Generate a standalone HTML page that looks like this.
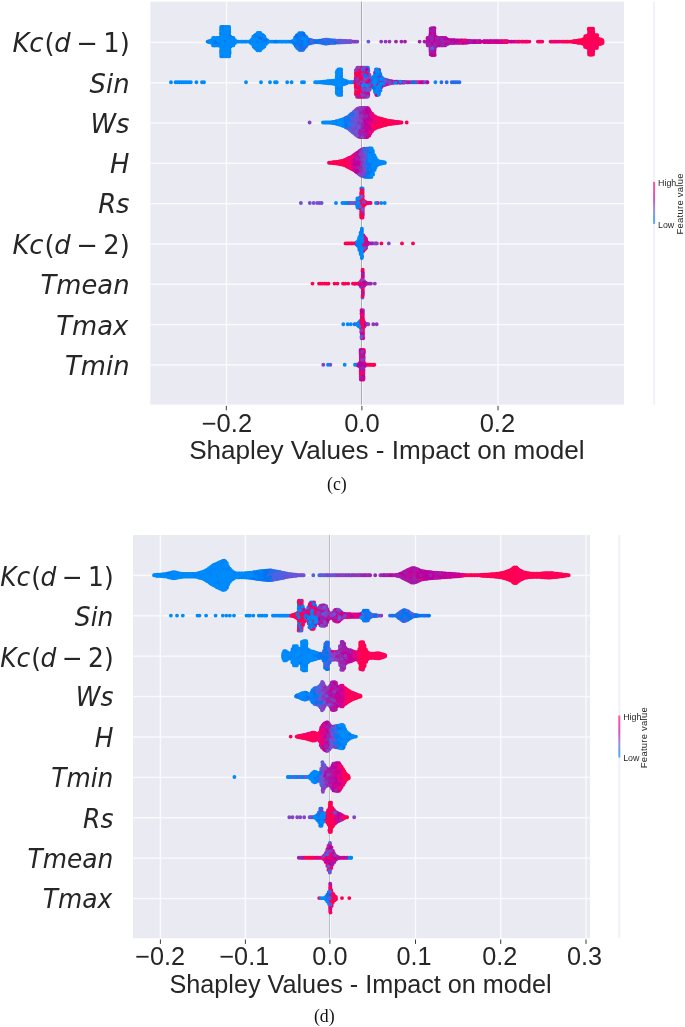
<!DOCTYPE html>
<html lang="en"><head><meta charset="utf-8"><title>Shapley Values - Impact on model</title>
<style>
html,body{margin:0;padding:0;background:#fff}
body{width:685px;height:1027px;overflow:hidden}
svg{display:block}
text{fill:#262626}
.yl{font-family:"DejaVu Sans","Liberation Sans",sans-serif;font-style:italic;font-size:25.8px}
.yl .up{font-style:normal}
.tk{font-family:"Liberation Sans",Arial,sans-serif;font-size:25.5px}
.xl{font-family:"Liberation Sans",Arial,sans-serif;font-size:26.1px}
.cap{font-family:"Liberation Serif","Times New Roman",serif;font-size:17.8px;fill:#111}
.cbt{font-family:"Liberation Sans",Arial,sans-serif;font-size:8.9px}
.cbl{font-family:"Liberation Sans",Arial,sans-serif;font-size:9.5px}
</style></head><body>
<svg width="685" height="1027" viewBox="0 0 685 1027">
<rect width="685" height="1027" fill="#fff"/>
<rect x="150.3" y="1.7" width="473.7" height="402.9" fill="#eaeaf2"/>
<rect x="150.3" y="41.70" width="473.7" height="1.4" fill="#fafafd"/>
<rect x="150.3" y="82.01" width="473.7" height="1.4" fill="#fafafd"/>
<rect x="150.3" y="122.32" width="473.7" height="1.4" fill="#fafafd"/>
<rect x="150.3" y="162.63" width="473.7" height="1.4" fill="#fafafd"/>
<rect x="150.3" y="202.94" width="473.7" height="1.4" fill="#fafafd"/>
<rect x="150.3" y="243.25" width="473.7" height="1.4" fill="#fafafd"/>
<rect x="150.3" y="283.56" width="473.7" height="1.4" fill="#fafafd"/>
<rect x="150.3" y="323.87" width="473.7" height="1.4" fill="#fafafd"/>
<rect x="150.3" y="364.18" width="473.7" height="1.4" fill="#fafafd"/>
<rect x="225.80" y="1.7" width="1.4" height="402.9" fill="#fafafd"/>
<rect x="497.20" y="1.7" width="1.4" height="402.9" fill="#fafafd"/>
<rect x="361" y="1.7" width="1" height="402.9" fill="#a9a9ad"/>
<rect x="362" y="1.7" width="1" height="402.9" fill="#f8f8fc"/>
<g fill="none" stroke-width="3.90" stroke-linecap="round">
<path stroke="#008bfb" d="M225.6 36.7h0M333.0 83.6h0M377.5 90.1h0M225.6 46.5h0M258.8 43.3h0M258.7 46.8h0M381.2 161.8h0M229.1 28.7h0M224.1 31.9h0M345.0 119.9h0M333.8 123.1h0M371.8 150.0h0M358.6 200.0h0M344.9 80.7h0M215.8 44.1h0M332.3 122.5h0M379.1 74.5h0M241.5 41.6h0M375.6 165.9h0M179.4 82.2h0M255.1 41.6h0M227.9 27.0h0M232.2 41.6h0M261.9 36.4h0M376.0 93.3h0M372.8 162.7h0M337.1 79.0h0M339.7 87.0h0M235.0 43.0h0M225.0 38.4h0M368.2 90.2h0M379.0 80.7h0M185.1 82.2h0M374.2 167.0h0M381.4 85.4h0M237.3 41.6h0M222.4 56.2h0M253.6 46.5h0M175.6 82.2h0M218.5 42.9h0M369.2 169.0h0M338.2 122.5h0M233.1 42.9h0M225.4 40.0h0M230.5 46.4h0M214.5 44.1h0M254.7 40.1h0M274.1 41.6h0M359.4 249.9h0M228.3 28.7h0M221.3 49.7h0M361.7 235.3h0M217.3 39.1h0M370.5 170.6h0M342.4 203.0h0M214.6 42.9h0M330.3 83.3h0M257.7 36.4h0M340.7 93.3h0M223.7 33.5h0M218.7 44.1h0M226.8 40.0h0M215.8 40.4h0M225.2 51.3h0M376.8 162.7h0M218.3 39.1h0M258.8 41.6h0M372.8 152.7h0M376.1 87.0h0M276.7 82.2h0M327.7 81.3h0M381.5 80.6h0M282.1 41.6h0M221.3 38.4h0M356.2 324.3h0M375.7 157.9h0M362.6 188.4h0M340.9 123.7h0M335.4 83.9h0M341.2 72.7h0M288.5 41.6h0M214.3 45.4h0M317.9 82.2h0M369.2 173.7h0M340.9 80.6h0M340.9 121.3h0M258.9 48.5h0M367.0 79.0h0M370.1 176.9h0M374.5 165.6h0M236.4 41.6h0M304.0 82.2h0M328.5 83.2h0M336.0 203.0h0M325.8 82.9h0M357.6 243.4h0M226.8 51.3h0M357.3 206.0h0M229.1 43.2h0M226.7 44.8h0M259.2 45.0h0M228.2 40.0h0M218.4 40.4h0M249.7 41.6h0M270.0 82.2h0M260.3 46.8h0M371.8 153.2h0M326.0 82.2h0M375.5 167.5h0M344.8 82.2h0M335.1 123.4h0M229.3 31.9h0M226.3 41.6h0M339.9 75.9h0M324.8 82.2h0M374.6 169.9h0M369.2 151.7h0M294.0 41.6h0M360.5 235.9h0M321.9 82.2h0M339.5 83.8h0M227.8 51.3h0M316.5 82.2h0M233.5 39.1h0M331.3 81.0h0M357.5 200.0h0M374.3 161.3h0M229.5 46.5h0M336.4 121.3h0M359.5 240.1h0M232.0 40.3h0M232.0 37.8h0M347.8 82.2h0M230.5 36.8h0M381.8 77.4h0M357.6 203.0h0M342.4 79.8h0M435.4 82.2h0M321.8 81.9h0M346.3 122.5h0M378.8 91.4h0M349.3 82.2h0"/>
<path stroke="#0084f9" d="M213.3 44.1h0M218.8 45.4h0M376.4 75.9h0M258.9 38.2h0M299.5 49.9h0M342.3 125.4h0M355.3 243.4h0M339.8 90.1h0M368.9 156.4h0M223.8 30.3h0M300.6 38.3h0M254.8 37.1h0M326.3 81.5h0M339.4 71.1h0M303.5 43.2h0M349.1 116.2h0M361.8 246.6h0M303.3 49.6h0M406.3 82.2h0M380.6 85.5h0M375.1 74.0h0M360.5 327.5h0M267.1 42.7h0M264.3 40.0h0M253.5 38.3h0M303.5 41.6h0M295.3 38.9h0M296.6 44.7h0M344.9 118.5h0M297.9 46.8h0M338.4 82.2h0M225.3 54.5h0M334.1 121.9h0M256.5 41.6h0M372.8 172.7h0M339.9 88.5h0M296.7 41.6h0M301.9 44.9h0M207.6 41.6h0M292.7 42.0h0M212.9 40.4h0M267.4 40.5h0M382.2 162.7h0M357.9 244.4h0M259.2 50.2h0M264.4 41.6h0M360.7 249.4h0M371.7 162.7h0M211.9 43.0h0M374.7 88.7h0M326.0 122.5h0M374.6 87.1h0M330.3 82.2h0M263.0 41.6h0M340.8 124.9h0M357.4 198.4h0M360.2 322.7h0M264.2 43.2h0"/>
<path stroke="#007cf5" d="M370.3 165.9h0M367.7 164.3h0M226.8 30.3h0M303.3 46.4h0M378.9 82.2h0M357.5 325.0h0M369.3 148.5h0M222.4 38.4h0M298.1 34.7h0M310.2 40.0h0M285.9 41.6h0M361.8 230.5h0M377.8 71.1h0M300.7 35.0h0M376.2 79.0h0M360.2 321.1h0M226.7 28.7h0M379.7 162.7h0M378.7 89.9h0M294.2 43.5h0M370.3 159.5h0M370.4 154.8h0M361.3 188.4h0M229.1 36.7h0M252.4 41.6h0M295.2 37.5h0M307.5 44.0h0M393.9 81.6h0M315.6 41.2h0M380.2 88.7h0"/>
<path stroke="#0075f0" d="M367.8 175.3h0M364.3 85.4h0M298.3 43.3h0M373.3 86.3h0M366.6 176.8h0M333.0 42.7h0M367.5 162.7h0M366.8 93.5h0M361.2 70.9h0M365.4 70.9h0M400.5 82.6h0M377.5 94.9h0M299.4 44.9h0M366.1 170.5h0M309.1 41.6h0M305.1 38.6h0M367.6 159.6h0M362.7 80.6h0M367.8 170.6h0M298.0 45.0h0M347.7 122.5h0M321.2 42.6h0M378.9 73.0h0M333.1 40.5h0M367.6 153.3h0M345.9 127.2h0M298.1 41.6h0M301.1 41.6h0M361.0 286.8h0"/>
<path stroke="#246cea" d="M312.8 40.6h0M298.4 36.4h0M323.6 43.2h0M350.3 128.4h0M318.7 42.2h0M300.7 36.6h0M457.5 82.2h0M347.2 118.9h0M319.8 40.8h0M316.0 42.0h0M453.7 82.2h0M309.0 39.7h0M459.4 82.2h0M366.3 165.8h0M351.6 124.2h0M299.3 38.3h0M304.7 35.6h0M304.8 47.6h0M322.5 42.9h0M318.5 41.6h0M351.7 115.7h0M306.2 43.0h0M314.5 40.9h0M366.9 67.6h0M299.4 35.0h0M318.4 41.0h0"/>
<path stroke="#4b63e3" d="M366.5 90.3h0M350.5 126.9h0M350.1 121.0h0M366.6 175.2h0M363.6 161.0h0M334.8 41.6h0M354.1 131.9h0M355.4 125.6h0M340.3 42.4h0M346.5 42.1h0M366.5 162.7h0M341.2 41.6h0M330.6 40.3h0M348.3 41.6h0M358.3 130.3h0M327.8 39.8h0M299.8 36.6h0M366.1 169.0h0M366.6 158.0h0M335.9 41.6h0"/>
<path stroke="#635adb" d="M367.8 83.8h0M352.8 129.0h0M366.6 151.7h0M366.5 95.1h0M443.8 40.4h0M404.7 82.2h0M338.6 41.6h0M354.2 111.5h0M352.0 203.0h0M350.3 122.5h0M370.6 79.7h0M356.8 132.5h0M364.8 162.7h0M365.3 165.8h0M355.4 127.1h0M366.5 150.2h0M346.7 41.1h0M351.8 129.3h0"/>
<path stroke="#754fd1" d="M362.3 166.0h0M342.9 40.9h0M319.5 203.0h0M355.6 128.6h0M362.9 313.4h0M300.9 203.0h0M388.6 80.7h0M345.7 42.2h0M358.2 117.8h0M362.1 164.4h0M365.7 323.8h0M363.8 157.5h0M372.9 243.4h0M356.8 129.1h0M355.4 117.9h0M384.2 80.8h0M393.9 82.8h0M313.7 203.0h0M356.9 125.8h0M362.6 91.9h0"/>
<path stroke="#8443c6" d="M410.1 82.2h0M358.6 131.9h0M442.5 44.1h0M362.8 83.8h0M392.2 81.4h0M383.3 85.4h0M361.0 133.8h0M361.1 72.5h0M397.7 82.2h0M361.2 119.3h0M363.6 164.4h0M354.0 127.2h0M363.5 122.5h0M361.1 109.6h0M365.5 95.1h0M358.1 122.5h0M330.3 364.8h0M356.1 41.6h0M356.6 364.8h0M309.6 122.5h0M363.4 169.6h0M358.1 119.4h0M354.9 41.6h0M355.8 110.2h0"/>
<path stroke="#9135ba" d="M369.6 82.2h0M361.3 167.5h0M389.5 41.6h0M366.6 96.8h0M365.6 96.8h0M361.2 169.1h0M362.4 176.0h0M362.6 151.1h0M376.7 324.3h0M360.8 356.6h0M364.2 75.7h0M362.3 119.3h0M373.3 324.3h0M363.2 364.8h0M392.3 82.2h0M362.4 167.7h0M363.8 119.3h0M356.7 117.5h0M404.8 81.9h0M359.9 133.7h0M363.8 154.1h0M365.4 93.5h0M362.3 154.4h0"/>
<path stroke="#9b24ad" d="M362.1 111.2h0M434.5 41.6h0M419.4 82.2h0M362.3 282.0h0M349.5 41.2h0M363.8 353.3h0M362.3 135.4h0M432.9 33.2h0M452.1 41.6h0M440.0 42.9h0M362.6 109.6h0M364.2 283.6h0M446.7 39.0h0M363.7 356.6h0M366.9 283.6h0M427.8 41.6h0M364.9 124.1h0M361.1 112.8h0M430.6 28.8h0M445.5 45.2h0M366.2 119.3h0M360.8 164.3h0M431.6 28.2h0M360.2 77.3h0M436.0 43.1h0M360.1 72.5h0M359.7 159.4h0M361.5 77.3h0M361.2 127.4h0M362.3 132.2h0M373.6 79.4h0M367.8 283.6h0M471.0 41.6h0M361.2 162.7h0M458.8 41.6h0M362.2 171.0h0"/>
<path stroke="#ac16a7" d="M359.6 172.7h0M441.5 40.4h0M361.6 203.0h0M433.0 39.9h0M427.5 44.1h0M358.4 168.8h0M366.2 117.6h0M359.4 127.3h0M360.0 166.0h0M358.4 128.7h0M432.0 29.9h0M362.7 70.9h0M423.7 82.2h0M360.1 80.6h0M433.1 36.6h0M433.3 50.0h0M359.8 91.9h0M430.7 52.8h0M435.9 46.2h0M368.0 69.4h0M362.8 96.8h0M364.3 88.7h0M432.9 55.0h0M432.1 31.5h0M430.6 54.4h0M363.6 358.2h0M358.3 162.7h0M358.1 170.3h0M429.3 42.9h0M456.4 42.8h0M441.1 41.6h0M452.1 40.3h0M366.6 135.4h0M360.9 170.7h0M430.7 43.2h0"/>
<path stroke="#bb00a0" d="M366.7 111.2h0M449.5 41.6h0M469.8 40.9h0M478.0 42.1h0M465.9 42.7h0M472.4 41.1h0M366.6 91.9h0M476.3 41.1h0M472.5 41.6h0M357.2 162.7h0M359.6 363.1h0M365.1 111.2h0M365.1 114.4h0M367.8 203.0h0M366.1 122.5h0M367.7 130.5h0M454.5 40.3h0M457.6 41.6h0M360.8 137.1h0M450.6 40.3h0M358.4 158.1h0M367.7 120.9h0M496.1 41.1h0M442.5 39.1h0M354.3 162.7h0M363.8 130.6h0M490.8 41.6h0M439.9 45.4h0M363.7 109.6h0"/>
<path stroke="#c90098" d="M367.9 125.7h0M502.9 42.1h0M357.2 167.5h0M365.2 132.2h0M466.7 40.6h0M363.3 371.4h0M372.2 85.9h0M491.8 41.1h0M357.0 153.0h0M355.9 159.2h0M489.6 41.6h0M364.5 241.8h0M518.6 41.6h0M354.2 156.5h0M507.4 41.1h0M462.7 40.5h0M498.7 41.6h0"/>
<path stroke="#d5008f" d="M354.5 158.1h0M371.5 243.4h0M475.2 41.6h0M355.5 154.0h0M355.6 169.6h0M354.1 165.8h0M369.0 116.0h0M422.3 82.2h0M362.7 316.5h0M352.9 169.5h0M370.7 130.2h0M368.0 108.1h0M352.9 167.8h0M368.9 120.9h0M381.5 87.0h0M399.6 82.2h0M361.0 282.0h0M368.0 112.9h0M357.0 154.7h0M363.1 322.7h0M495.0 42.1h0"/>
<path stroke="#e00086" d="M364.7 246.5h0M497.4 42.1h0M370.2 111.7h0M361.5 325.9h0M353.0 162.7h0M504.7 41.1h0M370.3 122.5h0"/>
<path stroke="#e9007c" d="M351.8 158.2h0M360.8 358.2h0M522.5 41.6h0M361.6 85.4h0M360.8 376.3h0M371.8 116.6h0M372.9 123.9h0M523.9 41.6h0M370.4 127.1h0M353.1 161.0h0M371.9 118.1h0"/>
<path stroke="#f20072" d="M565.1 41.6h0M361.8 316.5h0M369.7 76.1h0M526.4 41.6h0M389.4 122.5h0M361.9 318.1h0M500.3 41.6h0"/>
<path stroke="#f90067" d="M375.9 122.5h0M418.0 82.2h0M540.8 41.6h0M559.7 41.6h0M460.3 40.4h0M366.6 202.7h0M598.2 42.9h0M372.9 115.3h0M348.9 158.0h0M338.3 161.6h0M561.2 41.6h0M373.1 118.2h0M372.9 116.7h0M343.4 162.7h0M553.0 41.6h0M362.9 332.1h0M562.6 41.6h0M484.9 41.1h0M369.7 79.2h0M594.3 35.1h0"/>
<path stroke="#fe005c" d="M361.7 327.4h0M355.8 73.6h0M358.8 82.2h0M346.5 166.1h0M357.0 74.1h0M591.5 30.2h0M362.4 198.1h0M370.4 364.8h0M355.8 83.9h0M373.4 364.8h0M358.4 283.6h0M371.8 122.5h0M587.9 35.3h0M578.3 41.6h0M381.3 119.0h0M590.4 49.7h0M378.4 122.5h0M586.3 41.6h0M589.1 33.5h0M373.1 128.3h0M602.6 41.6h0M362.7 277.4h0M589.0 49.7h0M387.8 124.3h0M394.9 122.5h0M574.3 42.1h0M589.1 48.1h0M393.2 122.5h0M593.4 46.5h0M577.3 41.6h0M579.8 41.6h0"/>
<path stroke="#ff0051" d="M502.0 41.6h0M594.2 43.2h0M366.9 203.3h0M356.0 77.1h0M362.8 199.8h0M342.1 164.5h0M374.6 117.7h0M581.3 43.0h0M593.0 53.0h0M602.3 40.2h0M360.7 369.7h0M358.9 95.1h0M593.3 41.6h0M591.8 33.5h0M362.8 211.1h0M377.4 120.9h0M587.5 41.6h0M399.1 122.1h0M346.6 243.4h0M362.6 278.9h0M345.5 243.4h0M583.8 40.4h0M348.2 283.6h0M335.8 163.3h0M390.8 122.5h0M336.8 161.9h0M364.2 325.4h0M352.1 243.4h0M381.4 243.4h0M361.6 206.2h0M495.0 41.6h0M345.3 164.0h0M594.7 46.5h0M357.0 69.3h0M349.3 159.6h0M358.4 80.6h0M585.1 41.6h0M361.4 199.8h0M363.0 240.2h0M591.8 53.0h0M591.9 36.7h0M378.4 125.5h0M362.5 191.7h0M362.9 336.8h0M333.1 162.3h0M347.9 164.0h0M361.4 319.6h0M589.1 35.1h0M590.7 54.6h0M358.4 88.7h0M591.8 49.7h0M591.9 40.0h0M358.8 72.5h0M357.1 93.5h0M591.8 51.3h0M386.6 120.4h0M359.8 93.5h0M586.3 43.4h0M590.6 43.2h0M360.0 87.1h0M582.3 39.8h0M347.4 166.7h0M591.8 41.6h0M376.0 119.7h0M357.2 80.6h0M593.1 43.2h0M483.7 41.6h0M381.3 120.7h0M377.1 124.1h0M586.2 45.2h0M597.2 35.3h0M596.0 43.2h0M355.8 87.3h0M376.1 125.3h0M589.3 46.5h0M585.3 36.3h0M339.5 161.4h0M595.8 38.4h0M347.9 161.4h0M469.9 42.3h0M480.3 41.6h0M366.0 243.4h0M581.2 41.6h0M338.4 162.7h0M363.5 235.5h0M389.4 124.0h0M346.1 162.7h0"/>
<path stroke="#ff0051" d="M358.7 74.1h0M594.5 38.4h0M359.8 95.1h0M365.2 204.0h0M319.0 283.6h0M331.6 162.7h0M363.1 333.7h0M393.6 121.5h0M364.5 240.3h0M356.2 89.0h0M595.6 47.9h0M591.6 54.6h0M361.2 193.3h0M395.0 123.3h0M363.1 321.2h0M598.6 40.3h0M539.1 41.6h0M352.9 283.6h0M602.5 43.0h0M413.0 243.4h0M345.5 283.6h0M588.9 53.0h0M592.0 38.4h0M396.2 123.1h0M569.0 41.6h0M335.3 162.1h0M386.5 121.4h0M595.9 46.3h0M339.9 162.7h0M363.9 203.0h0M601.3 40.5h0M495.9 42.1h0M361.4 201.4h0M590.4 40.0h0M359.8 85.4h0M593.3 51.3h0M588.8 40.0h0M362.8 294.5h0M349.4 243.4h0M384.1 121.1h0M406.7 122.5h0M590.3 33.5h0M362.9 207.9h0M346.3 161.0h0M358.8 77.3h0M375.6 126.7h0M385.4 120.0h0M384.2 119.7h0M335.5 162.7h0M590.6 41.6h0M364.2 322.1h0M363.2 243.4h0M599.6 39.3h0M594.6 48.1h0M589.0 30.2h0M593.1 44.8h0M597.0 44.8h0M577.3 42.5h0M351.1 243.4h0M585.1 46.9h0M340.7 164.3h0M368.9 364.8h0M361.1 214.3h0M358.4 75.7h0M357.5 70.9h0M356.1 71.9h0M357.3 77.3h0M355.8 283.6h0M595.8 35.3h0M357.2 90.3h0M593.1 28.6h0M343.0 283.6h0M326.6 283.6h0M601.0 39.4h0M393.7 123.5h0M322.8 283.6h0M595.7 36.9h0M591.8 43.2h0M592.0 44.8h0M347.8 158.7h0M363.6 249.7h0M400.4 122.5h0M362.6 193.3h0M367.8 364.8h0M592.9 48.1h0M363.4 248.1h0M592.9 35.1h0M328.5 283.6h0M363.9 200.9h0M589.1 54.6h0M575.9 40.9h0"/>
<path stroke="#fe005c" d="M491.9 41.6h0M381.1 122.5h0M347.7 162.7h0M358.5 85.4h0M356.1 90.8h0M585.0 39.8h0M598.2 44.3h0M365.4 203.0h0M362.9 329.0h0M373.3 119.6h0M563.9 41.6h0M392.4 122.5h0M594.6 36.7h0M363.4 379.6h0M599.6 40.4h0M380.1 122.5h0M332.9 163.1h0M358.6 90.3h0M594.3 41.6h0M491.9 42.1h0M594.4 44.8h0M334.5 162.2h0M590.3 53.0h0M341.0 161.1h0M583.8 44.0h0M460.2 41.6h0M344.8 165.4h0M567.6 41.6h0M368.4 74.2h0M460.0 42.8h0M346.5 159.3h0M347.4 165.4h0M461.9 42.7h0M361.4 212.7h0M364.3 204.1h0M600.9 43.8h0"/>
<path stroke="#f90067" d="M529.4 41.6h0M395.1 82.2h0M551.8 41.6h0M343.9 164.8h0M349.2 167.4h0M374.7 127.3h0M329.0 162.7h0M374.5 116.1h0M555.6 41.6h0M361.4 280.4h0M362.2 364.8h0M457.7 42.8h0M371.9 124.0h0M347.5 160.0h0M397.6 122.0h0M397.5 123.0h0M340.9 162.7h0M365.6 91.9h0"/>
<path stroke="#f20072" d="M367.5 244.3h0M350.2 166.3h0M362.8 311.8h0M364.9 243.4h0M364.0 69.3h0M362.9 283.6h0M377.0 117.6h0M371.7 128.4h0M537.9 41.6h0M372.0 126.9h0"/>
<path stroke="#e9007c" d="M369.4 135.5h0M349.1 165.8h0M350.5 157.4h0M364.2 323.2h0M354.3 161.2h0M372.0 115.2h0M493.2 42.1h0M375.1 72.4h0M370.8 124.0h0M366.8 75.7h0M374.4 120.9h0M361.2 80.6h0M370.2 121.0h0M362.7 286.7h0"/>
<path stroke="#e00086" d="M366.6 203.0h0M371.7 121.0h0M351.4 161.2h0M505.7 41.6h0M505.8 41.1h0M487.9 41.6h0M369.0 109.5h0M486.5 41.1h0"/>
<path stroke="#d5008f" d="M373.5 78.1h0M362.5 271.1h0M370.4 113.2h0M370.6 83.5h0M497.5 41.1h0M383.1 83.8h0M503.1 41.6h0M361.1 377.9h0M360.7 355.0h0M368.0 128.9h0M415.5 82.2h0M351.8 165.7h0M367.7 109.7h0M369.2 133.9h0M367.6 111.3h0M493.7 41.1h0M368.9 124.1h0"/>
<path stroke="#c90098" d="M475.0 42.1h0M439.7 39.1h0M362.9 275.8h0M367.0 70.9h0M441.3 42.9h0M365.3 69.3h0M475.0 41.1h0M362.6 87.1h0M357.0 165.9h0M361.1 285.2h0M370.3 131.8h0M500.1 42.1h0M358.4 173.3h0M400.3 82.2h0M367.8 114.5h0M355.6 161.0h0M362.9 272.7h0M421.1 82.2h0M478.1 41.1h0M440.1 44.1h0M489.2 42.1h0M501.7 41.1h0"/>
<path stroke="#bb00a0" d="M474.0 41.6h0M450.7 41.6h0M453.6 40.3h0M442.4 42.9h0M430.3 35.2h0M363.8 351.7h0M441.4 37.9h0M354.3 82.2h0M430.2 36.8h0M369.1 114.4h0M361.2 161.1h0M430.7 30.4h0M359.7 82.2h0M432.9 43.3h0M444.2 45.4h0M366.2 129.0h0M448.3 43.5h0M367.9 117.7h0M464.4 41.6h0M488.2 42.1h0M483.8 41.1h0M358.6 79.0h0M384.2 82.2h0M366.5 107.9h0M362.4 114.4h0M473.8 41.1h0M365.1 135.4h0M427.5 37.9h0M366.0 248.0h0M368.1 82.2h0M507.0 41.6h0M365.1 90.3h0M356.9 172.4h0"/>
<path stroke="#ac16a7" d="M366.4 137.1h0M405.0 41.6h0M376.8 243.4h0M365.2 88.7h0M364.8 109.6h0M362.1 130.6h0M435.9 38.5h0M440.1 37.9h0M456.3 40.4h0M432.0 51.7h0M361.0 114.4h0M436.1 41.6h0M365.2 120.9h0M355.6 166.2h0M433.0 53.3h0M444.2 42.9h0M364.0 285.9h0M461.6 41.6h0M459.1 42.8h0M445.6 38.0h0M364.8 127.4h0M366.3 127.4h0M362.1 129.0h0M363.6 129.0h0M435.7 40.1h0M429.1 37.7h0M359.6 111.3h0M430.4 49.6h0M434.4 51.7h0M444.3 41.6h0M364.9 137.1h0M358.6 165.7h0M433.3 29.9h0M359.5 119.3h0M433.3 28.2h0M433.4 38.2h0M365.2 112.8h0M468.4 40.8h0M361.3 156.3h0M458.8 40.4h0M440.0 41.6h0M363.5 116.0h0M436.1 44.7h0M363.8 117.6h0M360.9 165.9h0M362.7 274.2h0"/>
<path stroke="#9b24ad" d="M430.7 44.8h0M465.8 41.6h0M454.6 42.9h0M370.9 283.6h0M367.9 75.8h0M361.2 150.0h0M361.8 314.9h0M359.8 171.1h0M361.9 361.5h0M355.9 202.6h0M444.3 44.1h0M433.4 48.3h0M370.2 243.4h0M437.4 40.3h0M363.9 124.1h0M434.3 31.5h0M361.6 69.3h0M364.0 93.5h0M445.6 39.8h0M363.7 135.4h0M365.2 129.0h0M438.6 37.9h0M359.7 152.7h0M427.8 45.4h0M360.6 353.3h0M367.9 85.4h0M358.2 155.1h0M365.0 125.7h0M362.2 117.6h0M362.2 366.4h0M369.0 243.4h0"/>
<path stroke="#9135ba" d="M365.5 284.4h0M361.9 335.2h0M390.9 83.2h0M368.1 79.0h0M381.2 41.6h0M365.3 283.6h0M359.3 366.5h0M361.0 135.4h0M359.6 162.7h0M373.4 82.2h0M358.4 153.6h0M361.2 124.1h0M357.5 67.6h0M362.1 149.4h0M363.6 162.7h0M365.0 107.9h0M358.2 110.0h0M353.6 41.6h0M384.4 84.9h0M359.8 169.4h0M403.3 81.9h0M359.7 164.4h0M396.5 81.8h0M364.2 74.1h0M359.4 116.1h0M358.1 133.4h0M370.9 78.4h0M361.2 129.0h0M361.1 116.0h0M364.8 130.6h0"/>
<path stroke="#8443c6" d="M364.1 95.1h0M358.1 108.4h0M347.9 41.2h0M356.8 122.5h0M352.0 41.6h0M361.9 368.1h0M362.3 159.4h0M355.9 203.0h0M388.8 243.4h0M363.5 155.8h0M362.7 190.1h0M358.6 135.0h0M356.0 82.2h0M359.9 83.8h0M365.2 67.6h0M357.2 124.2h0M354.0 120.9h0M358.1 116.3h0M368.0 72.6h0M365.2 82.2h0M362.3 373.0h0M355.6 130.2h0M358.1 120.9h0M363.6 359.9h0M356.8 119.2h0"/>
<path stroke="#754fd1" d="M354.3 128.8h0M366.7 87.1h0M359.6 114.5h0M369.4 74.6h0M383.2 80.6h0M363.4 152.4h0M363.4 149.0h0M397.7 81.8h0M434.8 43.3h0M351.3 131.0h0M359.6 120.9h0M309.8 203.0h0M363.0 310.3h0M365.7 324.3h0M425.1 82.2h0M337.4 41.6h0M363.5 150.7h0M363.7 363.2h0M363.5 166.1h0M366.6 88.7h0M359.4 117.7h0M361.6 338.3h0M361.9 376.3h0M365.0 158.0h0M361.1 93.5h0"/>
<path stroke="#635adb" d="M351.4 122.5h0M366.5 156.4h0M366.4 148.6h0M346.9 41.6h0M362.7 285.2h0M329.4 43.1h0M348.3 42.0h0M431.6 36.6h0M353.2 112.8h0M361.3 82.2h0M361.6 95.1h0M349.6 42.0h0M363.8 176.4h0M356.7 134.1h0M359.3 364.8h0M352.7 132.2h0M350.6 41.9h0"/>
<path stroke="#4b63e3" d="M366.5 153.3h0M326.7 41.6h0M353.1 120.9h0M326.5 39.6h0M353.1 119.3h0M351.5 127.6h0M361.1 91.9h0M350.3 118.1h0M363.7 174.7h0M364.8 175.2h0M362.8 75.7h0M330.8 42.9h0M369.3 77.6h0M352.7 130.6h0M300.6 39.9h0M355.8 113.3h0M354.1 113.1h0M364.8 172.1h0M349.1 127.2h0M352.9 124.1h0M302.4 49.9h0M317.3 42.1h0M366.3 173.7h0"/>
<path stroke="#246cea" d="M351.3 114.0h0M307.4 42.8h0M305.0 43.1h0M358.0 364.8h0M384.5 79.5h0M383.2 79.0h0M312.9 41.6h0M365.3 77.3h0M353.0 117.6h0M366.3 172.1h0M348.2 203.0h0M332.0 41.6h0M385.8 79.9h0M396.7 82.6h0M306.3 45.9h0M302.2 48.2h0"/>
<path stroke="#0075f0" d="M359.4 248.3h0M397.7 82.6h0M306.1 40.2h0M302.4 43.3h0M295.6 45.7h0M302.5 46.6h0M317.0 41.6h0M303.4 44.8h0M401.8 81.9h0M403.6 82.5h0M310.1 41.6h0M367.8 158.0h0M321.0 40.6h0M367.8 156.4h0M333.2 41.6h0"/>
<path stroke="#007cf5" d="M297.1 38.5h0M290.2 41.6h0M297.0 40.1h0M328.9 40.1h0M371.5 165.9h0M221.2 27.0h0M311.4 42.9h0M224.2 48.1h0M227.7 31.9h0M222.9 41.6h0M368.9 176.9h0M360.4 324.3h0M261.8 39.9h0M217.3 41.6h0M311.5 41.6h0M320.0 41.6h0M361.8 232.1h0M372.9 156.0h0M336.4 122.5h0M295.3 41.6h0M370.4 148.5h0M327.7 41.6h0M377.7 75.9h0M306.2 41.6h0M371.5 167.4h0M369.2 170.6h0M226.7 48.1h0M368.9 172.2h0M225.3 48.1h0M380.3 87.1h0M217.3 45.4h0M377.7 82.2h0M257.7 45.0h0M348.6 117.8h0"/>
<path stroke="#0084f9" d="M220.1 42.9h0M362.1 245.0h0M338.4 93.3h0M295.2 40.2h0M361.7 254.7h0M367.9 67.8h0M374.8 78.9h0M342.4 122.5h0M244.1 41.6h0M279.4 41.6h0M227.9 33.5h0M219.9 37.6h0M381.8 82.2h0M261.7 46.8h0M300.7 43.3h0M222.6 48.1h0M245.3 41.6h0M364.2 70.9h0M360.3 247.9h0M360.8 241.9h0M256.0 48.7h0M340.4 122.5h0M369.0 153.2h0M341.2 94.9h0M347.4 117.1h0M376.4 88.5h0M370.4 153.2h0M217.5 40.4h0M370.3 156.4h0M302.5 39.9h0M260.2 33.0h0M335.5 121.6h0M256.4 38.1h0M370.2 173.8h0M229.6 52.9h0M360.7 238.9h0M291.2 41.6h0M373.7 85.0h0M330.0 81.1h0M360.5 325.9h0M272.6 41.6h0M253.7 40.0h0M360.7 237.4h0M380.5 90.4h0M299.2 33.3h0M213.0 42.9h0M357.5 201.5h0M252.0 42.9h0M340.8 83.8h0M346.5 83.2h0M387.0 84.1h0M224.2 44.8h0M292.8 41.6h0"/>
<path stroke="#008bfb" d="M374.5 159.8h0M220.1 41.6h0M336.7 87.0h0M225.1 35.1h0M377.2 160.2h0M344.8 122.5h0M359.0 238.5h0M344.1 203.0h0M336.9 90.2h0M215.6 39.1h0M221.5 54.5h0M339.5 77.4h0M338.1 83.8h0M284.8 41.6h0M370.6 164.3h0M256.5 36.3h0M368.9 165.9h0M344.8 83.7h0M340.9 74.3h0M260.3 45.0h0M371.5 172.2h0M341.0 88.5h0M371.7 158.0h0M229.1 33.5h0M371.7 148.5h0M226.6 31.9h0M221.3 41.6h0M373.1 174.4h0M375.1 90.4h0M358.0 241.3h0M218.3 37.9h0M252.4 40.3h0M338.3 91.7h0M256.3 39.8h0M320.5 82.2h0M315.1 82.2h0M209.1 42.1h0M335.6 80.5h0M218.5 41.6h0M271.2 41.6h0M358.7 207.6h0M371.7 173.8h0M287.3 41.6h0M378.6 164.3h0M257.8 43.3h0M347.6 120.7h0M374.5 158.4h0M342.2 82.2h0M338.1 121.0h0M233.2 41.6h0M339.3 120.5h0M269.5 41.6h0M375.7 162.7h0M336.8 82.2h0M223.8 56.2h0M338.5 87.0h0M242.5 41.6h0M221.5 36.7h0M372.9 171.0h0M324.9 82.8h0M227.8 38.4h0M246.7 41.6h0M224.2 40.0h0M372.8 167.7h0M260.6 43.3h0M357.7 242.4h0M275.0 82.2h0M263.1 47.6h0M255.1 43.1h0M376.4 85.4h0M276.4 41.6h0M370.3 167.4h0M221.2 43.2h0M260.1 36.4h0M291.6 82.2h0M359.2 245.0h0M257.7 33.0h0M372.9 154.4h0M283.3 41.6h0M224.1 49.7h0M371.9 156.4h0M221.2 35.1h0M222.5 33.5h0M346.7 81.2h0M362.6 79.0h0M256.1 34.5h0M267.0 41.6h0M377.1 165.2h0M223.7 41.6h0M372.8 164.4h0M357.8 323.6h0M361.8 233.7h0M336.7 72.5h0M260.3 39.9h0M248.3 41.6h0M358.5 204.5h0M339.9 91.7h0M340.8 82.2h0M328.0 364.8h0M359.5 236.9h0M345.2 203.0h0M376.5 74.3h0M343.3 324.3h0M323.0 122.5h0M264.3 44.8h0M370.3 169.0h0M177.5 82.2h0M280.9 41.6h0M214.6 40.4h0M256.3 43.4h0M210.2 41.6h0M210.4 40.9h0M228.1 54.5h0M371.6 161.1h0M375.8 159.5h0M224.2 38.4h0M171.0 82.2h0M219.8 40.3h0M268.2 41.6h0M183.2 82.2h0M228.2 35.1h0M342.3 83.4h0M323.5 82.2h0M329.0 82.2h0M228.0 52.9h0M384.7 203.0h0M323.6 81.8h0"/>
<path stroke="#008bfb" d="M365.4 72.5h0M381.3 163.6h0M258.8 34.7h0M225.5 30.3h0M358.7 324.3h0M338.5 79.0h0M343.2 119.1h0M378.9 85.3h0M221.0 51.3h0M371.9 169.0h0M229.6 51.3h0M336.7 83.8h0M372.9 151.0h0M338.3 94.9h0M356.5 244.4h0M372.0 159.5h0M337.0 80.6h0M360.6 254.0h0M358.5 206.0h0M336.7 91.9h0M219.7 45.6h0M258.7 36.4h0M223.9 54.5h0M364.1 281.3h0M334.5 82.2h0M190.8 82.2h0M323.3 82.6h0M250.8 42.7h0M337.2 70.9h0M222.4 40.0h0M344.7 364.8h0M232.1 45.4h0M327.4 83.1h0M217.2 44.1h0M338.3 90.1h0M226.5 36.7h0M234.5 41.6h0M222.8 31.9h0M214.3 41.6h0M338.2 75.9h0M328.6 81.2h0M222.9 35.1h0M370.2 175.4h0M225.2 44.8h0M370.1 158.0h0M360.4 240.4h0M340.8 71.1h0M372.9 157.7h0M261.5 48.6h0M209.1 41.1h0M341.0 77.4h0M360.7 234.4h0M262.9 40.1h0M228.3 36.7h0M221.0 52.9h0M255.2 44.6h0M339.6 94.9h0M254.7 47.6h0M222.7 28.7h0M246.0 82.2h0M224.2 35.1h0M338.3 71.1h0M340.8 79.0h0M324.8 122.5h0M343.5 124.2h0M339.4 93.3h0M332.8 82.2h0M265.6 39.2h0M370.6 162.7h0M223.8 36.7h0M360.3 244.9h0M338.1 85.4h0M356.4 242.4h0M229.5 49.7h0M382.6 162.1h0M221.4 44.8h0M263.0 43.1h0M261.9 43.3h0M334.2 80.7h0M260.1 48.5h0M337.2 74.2h0M235.0 40.2h0M225.1 49.7h0M350.6 82.2h0M327.6 82.2h0M229.2 27.0h0M238.7 41.6h0M371.6 151.6h0M344.8 123.8h0M263.2 44.6h0M373.3 159.4h0M211.7 40.2h0M217.2 42.9h0M211.6 41.6h0M335.5 82.2h0M346.4 120.9h0M261.8 45.1h0M216.0 41.6h0M230.7 38.4h0M257.5 34.7h0M259.2 39.9h0M221.4 48.1h0M222.4 51.3h0M265.8 44.0h0M343.8 84.1h0M225.2 52.9h0M334.3 83.7h0M401.7 82.2h0M226.4 27.0h0M233.3 45.4h0M222.3 27.0h0M265.7 41.6h0M341.0 85.4h0M336.8 88.6h0M336.7 77.4h0M221.2 40.0h0M336.7 85.4h0M362.1 256.3h0M265.5 42.8h0"/>
<path stroke="#0084f9" d="M360.8 250.9h0M371.9 80.4h0M379.0 83.7h0M307.9 40.4h0M367.7 151.7h0M356.6 243.4h0M368.8 159.5h0M345.0 126.5h0M306.5 44.4h0M232.0 39.1h0M221.3 28.7h0M232.2 42.9h0M229.3 48.1h0M222.3 46.5h0M223.8 46.5h0M359.0 322.4h0M277.7 41.6h0M360.7 252.4h0M370.5 161.1h0M374.9 85.5h0M375.5 164.3h0M370.6 80.9h0M229.2 54.5h0M338.2 88.5h0M263.0 38.6h0M208.8 41.6h0M374.6 164.1h0M253.6 41.6h0M340.8 90.1h0M374.5 157.0h0M377.4 85.4h0M262.0 34.6h0M331.8 82.2h0M373.0 161.0h0M359.0 243.4h0M359.1 246.7h0M372.0 154.8h0M345.0 125.1h0M221.0 33.5h0M377.4 87.0h0M338.4 69.5h0M342.2 121.0h0M222.8 54.5h0M380.2 80.6h0M371.6 164.3h0M343.7 120.8h0M383.8 162.7h0M263.3 37.1h0M377.5 83.8h0M373.8 83.6h0M377.4 77.4h0M224.1 43.2h0M361.8 258.0h0M362.1 251.5h0M306.5 37.3h0M342.5 84.6h0"/>
<path stroke="#007cf5" d="M367.5 154.8h0M357.6 245.5h0M307.8 39.2h0M362.2 243.4h0M214.6 39.1h0M298.1 39.9h0M223.9 28.7h0M350.0 116.6h0M367.7 165.8h0M380.2 77.3h0M257.5 38.2h0M365.1 85.4h0M219.8 44.3h0M375.8 161.1h0M367.7 167.4h0M371.7 170.6h0M229.3 40.0h0M379.2 76.1h0M301.1 49.9h0M297.9 38.2h0M380.3 74.0h0M255.1 46.1h0M295.5 44.3h0M299.6 39.9h0M225.1 43.2h0M230.5 44.8h0M261.9 38.1h0M336.8 123.7h0M372.2 78.5h0M358.6 201.5h0M346.0 119.4h0M223.7 27.0h0M261.7 41.6h0M370.2 172.2h0M367.9 172.1h0"/>
<path stroke="#0075f0" d="M366.5 159.6h0M376.4 72.7h0M296.7 37.0h0M351.6 120.8h0M374.7 77.3h0M303.3 35.2h0M376.0 69.5h0M368.2 87.0h0M334.4 42.7h0M376.5 80.6h0M363.9 80.6h0M302.1 36.6h0M265.6 40.4h0M365.1 176.8h0M263.4 35.6h0M330.3 41.6h0M345.9 124.1h0M389.5 81.0h0M347.3 126.1h0M348.9 128.8h0M302.1 41.6h0M327.7 43.4h0M322.5 40.3h0M365.3 74.1h0M303.9 36.8h0M299.4 46.6h0M366.1 161.1h0M302.4 33.3h0"/>
<path stroke="#246cea" d="M303.3 40.0h0M380.5 75.7h0M365.5 87.1h0M366.6 154.9h0M351.4 125.9h0M299.3 41.6h0M350.0 115.1h0M364.2 77.3h0M324.9 41.6h0M382.8 82.2h0M310.1 43.2h0M304.8 46.1h0M302.5 35.0h0M366.1 246.4h0M451.8 82.2h0M309.2 43.5h0M350.3 119.5h0M367.6 150.1h0M329.0 41.6h0M349.0 122.5h0M364.8 167.4h0M368.4 71.0h0"/>
<path stroke="#4b63e3" d="M334.6 40.5h0M300.6 46.6h0M362.5 297.6h0M350.5 124.0h0M324.0 41.6h0M354.2 122.5h0M392.7 83.0h0M351.3 119.1h0M311.5 40.3h0M367.8 91.8h0M388.3 82.2h0M325.2 39.6h0M296.7 46.2h0M399.0 81.8h0M324.1 40.0h0M298.3 48.5h0M354.5 119.4h0M347.3 127.9h0M335.7 40.6h0M347.6 124.3h0M426.5 82.2h0M313.0 42.6h0M362.8 67.6h0"/>
<path stroke="#635adb" d="M386.9 82.2h0M345.1 41.6h0M365.6 83.8h0M365.1 161.1h0M341.5 42.4h0M368.4 41.6h0M351.3 117.4h0M340.1 41.6h0M370.7 86.0h0M337.3 40.7h0M352.8 125.7h0M385.6 82.2h0M365.1 150.2h0M366.2 167.4h0M363.5 171.3h0"/>
<path stroke="#754fd1" d="M362.4 280.5h0M355.7 122.5h0M355.3 119.4h0M342.9 41.6h0M339.0 40.7h0M363.9 82.2h0M345.5 41.0h0M356.9 120.8h0M344.3 41.6h0M393.8 82.2h0M362.5 174.3h0M338.9 42.5h0M355.6 121.0h0M362.7 82.2h0M364.8 245.0h0M359.8 283.6h0M352.7 127.4h0M365.0 154.9h0M365.3 170.5h0M353.0 122.5h0M364.2 79.0h0"/>
<path stroke="#8443c6" d="M362.1 161.0h0M358.0 125.6h0M357.1 91.9h0M323.3 364.8h0M416.7 82.2h0M376.0 243.4h0M356.9 109.2h0M362.1 127.4h0M374.5 243.4h0M359.9 108.1h0M377.8 91.7h0M362.5 77.3h0M358.5 113.1h0M363.9 167.9h0M358.1 111.6h0M342.6 42.3h0M358.1 364.4h0M360.7 111.2h0M358.3 114.7h0M356.2 203.4h0M360.0 156.0h0M361.2 74.1h0M362.5 156.1h0M357.3 88.7h0"/>
<path stroke="#9135ba" d="M366.7 72.5h0M385.6 41.6h0M360.8 107.9h0M359.9 128.9h0M385.9 83.4h0M362.5 112.8h0M360.9 157.9h0M362.1 162.7h0M358.4 124.1h0M359.9 282.5h0M360.7 117.6h0M403.1 82.2h0M362.6 212.7h0M356.9 127.5h0M365.4 80.6h0M362.3 363.2h0M358.4 136.6h0M360.8 125.7h0M446.9 44.2h0"/>
<path stroke="#9b24ad" d="M359.9 157.7h0M359.7 132.1h0M430.3 40.0h0M355.6 78.8h0M359.7 130.5h0M364.2 72.5h0M427.6 39.1h0M430.6 48.0h0M428.8 40.3h0M356.8 169.1h0M446.5 40.3h0M359.4 135.3h0M362.3 124.1h0M359.9 112.9h0M434.5 34.9h0M364.8 122.5h0M401.4 41.6h0M363.8 87.1h0M419.6 41.6h0M433.4 45.0h0M396.5 82.2h0M360.9 130.6h0M360.7 374.6h0M361.6 88.7h0M366.5 125.7h0M430.5 51.2h0M369.5 283.6h0M438.9 44.1h0M362.9 214.3h0M361.3 67.6h0M450.7 42.9h0M430.6 32.0h0M434.4 36.6h0M362.5 90.3h0M358.6 171.8h0"/>
<path stroke="#ac16a7" d="M365.6 282.8h0M431.7 33.2h0M431.6 53.3h0M437.3 44.1h0M438.8 42.9h0M454.6 41.6h0M427.8 40.4h0M453.4 42.9h0M430.2 41.6h0M363.6 369.7h0M437.4 41.6h0M438.7 40.4h0M361.3 153.2h0M363.3 374.6h0M449.4 43.0h0M363.6 111.2h0M363.4 361.5h0M434.4 53.3h0M431.9 43.3h0M363.6 114.4h0M437.1 42.9h0M363.4 366.4h0M428.9 41.6h0M361.3 172.2h0M446.6 41.6h0M433.1 46.6h0M445.5 43.4h0M364.8 366.1h0M366.3 114.4h0M358.5 161.2h0M371.0 82.2h0M363.8 132.2h0M442.5 40.4h0M362.6 288.3h0M431.9 50.0h0M360.9 366.4h0M361.4 87.1h0M468.4 41.6h0M361.1 132.2h0M433.4 34.9h0M433.3 41.6h0M379.2 77.6h0"/>
<path stroke="#bb00a0" d="M517.0 41.6h0M479.0 42.1h0M441.5 44.1h0M366.8 69.3h0M462.7 42.7h0M434.6 50.0h0M446.4 42.9h0M366.0 241.9h0M447.8 39.7h0M363.5 127.4h0M364.8 238.7h0M434.5 38.2h0M434.4 39.9h0M360.9 379.6h0M457.3 40.4h0M461.4 40.5h0M434.4 33.2h0M440.0 40.4h0M431.9 45.0h0M366.5 124.1h0M367.5 124.1h0M438.6 45.4h0M434.5 28.2h0M429.4 39.0h0M364.9 116.0h0M366.7 130.6h0M466.8 41.6h0M358.4 152.1h0M361.0 361.5h0M479.2 41.6h0M360.8 364.8h0"/>
<path stroke="#c90098" d="M367.9 135.3h0M467.1 42.6h0M480.5 42.1h0M368.1 93.4h0M367.8 122.5h0M490.9 41.1h0M365.8 244.9h0M363.3 355.0h0M456.3 41.6h0M359.5 161.0h0M368.0 132.1h0M379.1 69.9h0M362.0 371.4h0M357.3 170.7h0M362.7 318.1h0M491.0 42.1h0M499.1 42.1h0M449.7 40.2h0M465.4 40.5h0M504.5 41.6h0M368.9 119.3h0M367.5 136.9h0M369.4 132.2h0M480.3 41.1h0M364.2 326.5h0M427.5 82.2h0M357.3 156.3h0M431.7 41.6h0M434.7 55.0h0M370.6 116.3h0M395.5 81.8h0"/>
<path stroke="#d5008f" d="M370.3 125.6h0M364.0 284.8h0M369.7 83.7h0M391.1 81.2h0M357.1 164.3h0M377.8 93.3h0M354.1 155.0h0M401.9 82.5h0M358.3 159.7h0M355.9 167.9h0M367.8 133.7h0M361.8 333.7h0M368.3 95.0h0M498.8 41.1h0M507.2 42.1h0M367.9 127.3h0M362.2 379.6h0M504.3 42.1h0M386.0 84.5h0M399.6 82.6h0M369.1 125.7h0M369.3 122.5h0"/>
<path stroke="#e00086" d="M351.7 159.7h0M360.7 371.4h0M363.1 251.3h0M363.6 377.9h0M363.2 246.6h0"/>
<path stroke="#e9007c" d="M370.4 114.8h0M388.5 83.7h0M351.4 168.7h0M363.3 238.7h0M370.4 133.3h0M353.0 155.9h0M363.8 350.0h0M373.0 126.8h0M370.6 203.0h0M369.3 130.6h0M350.5 164.5h0M361.5 310.3h0M370.7 117.9h0M514.2 41.6h0M369.1 203.0h0"/>
<path stroke="#f20072" d="M571.9 41.6h0M511.4 41.6h0M351.9 156.7h0M361.5 79.0h0M379.6 125.1h0M371.7 129.8h0M515.9 41.6h0M380.2 126.5h0M554.4 41.6h0M349.2 164.3h0M550.6 41.6h0M372.0 131.3h0M369.7 86.8h0M360.9 359.9h0"/>
<path stroke="#f90067" d="M521.4 41.6h0M381.2 124.3h0M360.7 373.0h0M382.5 120.9h0M503.3 41.1h0M373.1 125.4h0M586.4 36.2h0M594.7 40.0h0M485.3 42.1h0M376.4 83.8h0M519.5 41.6h0M372.1 125.4h0M361.6 324.3h0M368.2 80.6h0M383.8 125.3h0M372.4 84.0h0"/>
<path stroke="#fe005c" d="M589.3 31.9h0M362.7 204.6h0M590.2 31.9h0M334.2 162.7h0M363.0 241.8h0M592.9 30.2h0M573.3 41.2h0M350.5 160.9h0M363.2 325.9h0M366.5 82.2h0M360.0 197.8h0M596.9 41.6h0M601.0 42.7h0M587.7 44.7h0M589.4 38.4h0M344.8 160.0h0M353.2 157.6h0M595.6 44.8h0M578.7 40.5h0M362.2 374.6h0M350.1 168.0h0M360.0 204.7h0M382.5 125.7h0M361.4 322.7h0M359.7 75.7h0"/>
<path stroke="#ff0051" d="M376.0 123.9h0M362.4 194.9h0M588.8 28.6h0M361.1 211.1h0M357.3 75.7h0M360.1 208.2h0M380.0 118.5h0M374.5 124.1h0M596.9 38.4h0M382.5 124.1h0M576.0 42.3h0M339.6 164.0h0M577.2 40.7h0M392.0 121.3h0M362.2 356.6h0M361.2 204.6h0M586.7 39.8h0M364.3 205.1h0M355.8 85.6h0M381.2 126.0h0M589.2 41.6h0M361.2 194.9h0M361.5 191.7h0M361.6 283.6h0M360.0 79.0h0M385.3 123.7h0M583.8 39.2h0M358.5 93.5h0M361.6 329.0h0M357.2 87.1h0M579.7 42.8h0M385.5 121.3h0M379.7 121.2h0M590.5 30.2h0M344.9 162.7h0M362.7 201.4h0M384.2 122.5h0M590.5 38.4h0M357.1 72.5h0M336.8 162.7h0M386.5 123.6h0M596.8 36.9h0M353.8 243.4h0M355.9 94.2h0M361.4 209.5h0M586.2 38.0h0M336.8 163.5h0M590.7 44.8h0M382.7 119.3h0M579.6 40.4h0M380.2 119.9h0M353.4 82.2h0M357.2 85.4h0M387.8 122.5h0M583.7 41.6h0M402.0 243.4h0M595.9 40.0h0M312.5 283.6h0M360.2 70.9h0M592.9 36.7h0M386.7 124.6h0M338.4 163.8h0M587.8 38.5h0M360.2 90.3h0M392.0 123.7h0M385.6 122.5h0M593.2 33.5h0M378.7 126.9h0M590.4 28.6h0M591.9 28.6h0M593.3 31.9h0M365.3 202.0h0M583.5 42.8h0M361.3 217.6h0M396.2 122.5h0M591.7 35.1h0M582.4 41.6h0M387.8 120.7h0M362.9 203.0h0M377.4 122.5h0M348.1 243.4h0M357.2 82.2h0M359.9 88.7h0M342.6 162.7h0M600.0 41.6h0M462.7 41.6h0M360.0 96.8h0M590.4 46.5h0M360.3 199.5h0M362.7 269.6h0M506.0 42.1h0M598.4 38.9h0M588.0 46.3h0"/>
<path stroke="#ff0051" d="M587.6 43.2h0M334.2 163.2h0M397.4 122.5h0M357.4 283.6h0M343.7 161.6h0M358.7 87.1h0M343.4 163.8h0M337.5 283.6h0M358.5 91.9h0M390.9 121.1h0M361.2 90.3h0M343.6 160.6h0M589.3 51.3h0M582.2 43.4h0M589.3 43.2h0M573.3 42.0h0M346.3 164.4h0M360.0 67.6h0M362.8 324.3h0M366.2 240.4h0M361.5 313.4h0M575.7 41.6h0M362.6 296.1h0M574.5 41.6h0M362.6 215.9h0M363.1 327.4h0M596.9 46.3h0M320.9 283.6h0M361.6 321.2h0M398.9 122.5h0M363.2 237.1h0M357.1 83.8h0M384.1 123.9h0M599.8 42.8h0M330.2 162.7h0M361.5 198.1h0M573.3 41.6h0M584.9 45.1h0M401.5 122.5h0M360.3 203.0h0M357.5 95.1h0M596.8 40.0h0M361.6 190.1h0M358.7 69.3h0M598.6 41.6h0M362.4 350.0h0M374.3 364.8h0M590.5 35.1h0M362.7 314.9h0M356.1 75.4h0M592.0 46.5h0M364.7 249.6h0M593.1 38.4h0M378.4 118.1h0M570.7 41.6h0M382.3 122.5h0M362.8 196.5h0M361.2 215.9h0M324.7 283.6h0M378.8 119.5h0M374.6 125.7h0M359.8 74.1h0M362.6 217.6h0M345.3 161.4h0M599.9 43.9h0M361.3 207.9h0M377.7 203.0h0M334.5 283.6h0M566.5 41.6h0M378.4 124.0h0M587.9 47.9h0M342.0 160.9h0M593.0 54.6h0M375.8 128.1h0M390.5 123.9h0M398.8 122.9h0M358.5 96.8h0M581.1 40.2h0M597.0 43.2h0M385.4 125.0h0M587.5 40.0h0M360.0 69.3h0M360.3 201.3h0M371.6 364.8h0M585.0 38.1h0M377.0 125.8h0M356.1 92.5h0"/>
<path stroke="#fe005c" d="M590.4 36.7h0M589.3 36.7h0M586.2 47.0h0M589.1 44.8h0M362.7 72.5h0M574.4 41.1h0M349.0 161.1h0M593.1 40.0h0M364.5 324.3h0M375.7 121.1h0M596.9 47.9h0M486.8 42.1h0M377.1 127.4h0M366.3 364.8h0M389.6 121.0h0M585.1 43.4h0M394.7 121.7h0M362.8 289.8h0M350.2 162.7h0M590.7 48.1h0M601.0 41.6h0M464.4 40.5h0M362.8 206.2h0M364.7 363.5h0M366.7 80.6h0M363.4 373.0h0M332.9 162.7h0M590.7 51.3h0M578.4 42.7h0M387.0 122.5h0M587.9 36.9h0"/>
<path stroke="#f90067" d="M362.8 291.4h0M369.7 88.3h0M374.8 119.3h0M358.5 70.9h0M378.6 121.0h0M595.8 41.6h0M527.7 41.6h0M375.9 118.3h0M375.6 116.9h0M496.3 41.6h0M542.3 41.6h0M374.5 122.5h0M354.5 283.6h0M370.8 84.7h0M363.1 319.6h0M380.1 123.8h0M351.4 164.2h0M591.8 31.9h0M361.4 75.7h0M592.9 49.7h0"/>
<path stroke="#f20072" d="M592.0 48.1h0M351.6 167.2h0M350.5 159.1h0M525.5 41.6h0M362.9 93.5h0M362.9 330.5h0M374.3 128.9h0M372.9 129.7h0M373.3 122.5h0M395.9 121.9h0M558.2 41.6h0M377.2 119.2h0M348.7 162.7h0M373.4 121.1h0"/>
<path stroke="#e9007c" d="M351.9 162.7h0M556.8 41.6h0M380.5 82.2h0M361.2 96.8h0M353.1 166.1h0M372.1 113.7h0M366.0 238.8h0M363.2 245.0h0M354.1 167.3h0"/>
<path stroke="#e00086" d="M485.4 41.6h0M354.5 170.4h0M367.0 74.1h0M352.8 159.3h0M362.3 358.2h0M370.6 119.4h0M500.6 41.1h0"/>
<path stroke="#d5008f" d="M486.6 41.6h0M369.7 80.7h0M353.1 164.4h0M369.0 129.0h0M363.1 338.3h0M370.2 128.7h0M493.1 41.6h0M368.9 117.6h0M355.4 157.5h0M355.5 155.8h0"/>
<path stroke="#c90098" d="M369.1 112.8h0M354.1 168.9h0M489.5 41.1h0M513.1 41.6h0M354.4 159.6h0M501.6 42.1h0M371.9 119.6h0M364.9 119.3h0M362.3 353.3h0M361.3 332.1h0M510.2 41.6h0M360.6 351.7h0M369.3 127.4h0M366.5 120.9h0M368.9 111.1h0M376.4 94.9h0M364.0 282.4h0M497.4 41.6h0M366.5 132.2h0M476.5 42.1h0M366.8 83.8h0M471.0 41.1h0M355.9 162.7h0M355.6 164.4h0M360.0 284.7h0"/>
<path stroke="#bb00a0" d="M494.8 41.1h0M367.6 119.3h0M367.5 242.5h0M357.1 161.1h0M366.2 109.6h0M361.7 311.8h0M368.0 116.1h0M436.0 37.0h0M487.7 41.1h0M363.4 376.3h0M359.7 151.0h0M430.6 33.6h0M431.9 55.0h0M360.6 350.0h0M357.9 365.2h0M358.4 164.2h0M365.6 324.8h0M363.9 120.9h0M363.8 125.7h0M479.1 41.1h0M464.0 42.7h0M453.6 41.6h0M472.6 42.1h0M484.0 42.1h0M443.8 37.9h0M365.2 133.8h0M358.2 156.6h0M438.6 39.1h0M366.2 112.8h0M354.5 164.2h0M360.7 363.2h0M443.8 39.1h0M355.8 171.4h0M476.7 41.6h0M468.5 42.4h0M364.6 364.8h0M474.0 42.1h0"/>
<path stroke="#ac16a7" d="M362.0 355.0h0M363.5 112.8h0M407.6 82.2h0M362.8 335.2h0M430.3 38.4h0M361.0 368.1h0M431.6 46.6h0M364.7 237.2h0M362.3 122.5h0M429.0 45.5h0M364.0 133.8h0M356.8 159.5h0M442.7 37.9h0M452.3 42.9h0M445.6 41.6h0M362.9 293.0h0M438.6 41.6h0M364.8 117.6h0M427.5 42.9h0M477.6 41.6h0M424.5 41.6h0M408.6 82.2h0M364.0 91.9h0M441.6 45.4h0M469.9 41.6h0M437.2 45.4h0M471.1 42.1h0M361.9 369.7h0M431.9 34.9h0M434.7 46.6h0M362.0 377.9h0M433.1 31.5h0M361.6 83.8h0M362.6 120.9h0M434.3 29.9h0M363.6 137.1h0M437.3 39.1h0M363.5 107.9h0M448.0 41.6h0M366.1 133.8h0M433.0 51.7h0M430.6 46.4h0M367.2 243.4h0"/>
<path stroke="#9b24ad" d="M434.5 45.0h0M364.1 96.8h0M359.4 154.3h0M437.1 37.8h0M396.0 41.6h0M361.1 173.8h0M431.8 39.9h0M361.2 122.5h0M359.8 122.5h0M359.5 167.7h0M359.9 136.9h0M358.1 167.3h0M390.9 82.2h0M441.4 39.1h0M442.5 41.6h0M429.1 44.2h0M363.2 368.1h0M362.3 133.8h0M442.5 45.4h0M431.9 38.2h0M357.1 96.8h0M357.1 157.9h0M367.1 324.3h0M434.7 48.3h0M362.5 125.7h0M366.5 116.0h0M355.8 80.5h0M387.1 80.3h0"/>
<path stroke="#9135ba" d="M411.7 82.2h0M361.2 159.5h0M350.9 41.3h0M357.3 79.0h0M362.2 172.7h0M357.1 110.9h0M349.6 203.0h0M362.1 351.7h0M359.4 109.7h0M362.2 169.3h0M355.9 70.2h0M374.8 283.6h0M362.4 107.9h0M367.9 77.4h0M358.6 83.8h0M360.8 151.6h0M362.1 116.0h0M362.3 157.7h0M362.9 74.1h0M359.5 124.1h0"/>
<path stroke="#8443c6" d="M366.6 77.3h0M362.4 137.1h0M361.4 330.5h0M367.9 96.6h0M360.8 154.7h0M364.8 248.1h0M360.8 120.9h0M357.3 41.6h0M363.8 90.3h0M340.0 40.8h0M364.9 173.6h0M359.4 174.4h0M362.8 95.1h0M404.5 82.5h0M358.4 67.6h0M359.4 125.7h0M354.1 130.4h0M368.3 324.3h0M363.9 67.6h0M389.6 83.4h0M363.8 201.9h0M363.6 173.0h0M360.9 175.4h0M362.1 359.9h0M362.4 152.7h0M390.0 82.2h0M362.9 88.7h0"/>
<path stroke="#754fd1" d="M369.7 89.8h0M349.4 41.6h0M317.2 203.0h0M354.3 133.5h0M365.3 79.0h0M364.0 83.8h0M350.7 41.6h0M363.5 159.3h0M355.6 134.8h0M355.8 124.0h0M343.9 41.0h0M364.8 168.9h0M356.9 114.2h0M357.2 135.8h0M355.9 133.2h0M356.7 115.9h0M365.3 156.5h0M355.4 131.7h0M365.1 159.6h0M321.6 203.0h0M354.9 203.0h0M355.5 116.4h0"/>
<path stroke="#635adb" d="M361.5 336.8h0M354.4 117.8h0M432.1 48.3h0M355.9 111.8h0M326.3 43.6h0M358.4 127.2h0M362.7 209.5h0M361.6 196.5h0M350.0 129.9h0M354.0 125.6h0M365.0 164.3h0M356.7 130.8h0M356.9 112.5h0M354.2 114.6h0M343.9 42.2h0M350.4 203.0h0M355.3 114.8h0M360.0 206.5h0M353.5 203.0h0M337.5 42.5h0M367.9 88.6h0M354.0 116.2h0M385.9 81.0h0"/>
<path stroke="#4b63e3" d="M341.3 40.8h0M365.2 153.3h0M350.4 125.5h0M413.9 82.2h0M348.7 125.6h0M367.8 148.6h0M299.3 48.2h0M332.0 42.8h0M354.1 124.1h0M348.9 120.9h0M353.1 116.0h0M365.0 151.8h0"/>
<path stroke="#246cea" d="M331.9 40.4h0M364.7 148.6h0M369.3 85.2h0M319.7 42.4h0M446.7 82.2h0M441.4 82.2h0M369.1 164.3h0M322.3 41.6h0M384.5 83.6h0M321.2 41.6h0M314.4 42.3h0M353.0 114.4h0M362.8 69.3h0M455.6 82.2h0M305.1 40.1h0M346.1 117.8h0M301.0 48.2h0M303.8 48.0h0M373.8 80.8h0M314.4 41.6h0M366.2 164.3h0M354.6 324.3h0"/>
<path stroke="#0075f0" d="M365.5 75.7h0M315.7 41.6h0M215.6 42.9h0M332.4 122.9h0M305.1 37.1h0M413.1 82.2h0M296.8 35.4h0M303.5 33.6h0M367.6 173.7h0M370.6 151.6h0M346.0 125.6h0M260.4 38.2h0M376.2 82.2h0M367.6 161.1h0M300.8 44.9h0M316.9 41.1h0M296.6 43.1h0M335.7 42.6h0M373.4 87.7h0M377.7 79.0h0M307.3 41.6h0"/>
<path stroke="#007cf5" d="M295.7 43.0h0M367.5 169.0h0M377.9 72.7h0M367.6 176.8h0M303.3 38.4h0M335.1 122.5h0M254.8 35.6h0M325.4 43.6h0M299.2 43.3h0M301.0 33.3h0M222.9 30.3h0M369.3 150.1h0M213.4 41.6h0M257.8 41.6h0M230.6 41.6h0M264.5 38.4h0M368.8 162.7h0M372.1 82.2h0M380.1 78.9h0M369.3 167.4h0M275.4 41.6h0M348.9 119.4h0M344.9 121.2h0M292.5 41.2h0M375.0 92.0h0M375.2 75.7h0M377.7 80.6h0M329.7 122.5h0M225.5 41.6h0M332.7 122.1h0M376.3 77.4h0M378.7 79.1h0M376.1 90.1h0M368.9 175.3h0M229.1 35.1h0"/>
<path stroke="#0084f9" d="M257.9 48.5h0M230.4 40.0h0M374.3 168.4h0M358.8 326.2h0M304.7 44.6h0M257.5 50.2h0M360.6 246.4h0M384.9 162.7h0M357.6 207.6h0M341.2 75.9h0M233.1 44.1h0M371.4 176.9h0M360.7 243.4h0M373.7 76.7h0M297.1 47.8h0M380.1 83.8h0M362.1 248.3h0M233.4 37.9h0M357.1 204.5h0M228.2 46.5h0M377.9 74.3h0M228.2 56.2h0M341.2 91.7h0M360.6 232.8h0M225.3 56.2h0M304.8 41.6h0M257.7 39.9h0M379.2 71.5h0M349.0 124.1h0M346.9 203.0h0M374.9 82.2h0M362.1 241.8h0M221.2 56.2h0M379.1 92.9h0M373.2 169.4h0M253.4 36.7h0M361.9 228.8h0M383.7 163.1h0M229.1 38.4h0M346.4 82.2h0M225.3 33.5h0M251.2 40.5h0M343.3 122.5h0M343.2 125.9h0M362.1 236.9h0M251.1 41.6h0M229.2 30.3h0M359.1 241.8h0"/>
<path stroke="#008bfb" d="M225.5 31.9h0M342.1 124.0h0M362.2 240.2h0M226.6 49.7h0M264.4 46.4h0M341.2 69.5h0M338.1 72.7h0M225.3 28.7h0M372.9 166.0h0M369.0 158.0h0M366.7 85.4h0M213.1 45.4h0M347.7 324.3h0M339.5 74.3h0M229.2 44.8h0M338.5 74.3h0M395.5 82.6h0M355.0 364.8h0M227.8 49.7h0M361.7 253.1h0M327.4 122.5h0M226.7 33.5h0M294.4 39.7h0M339.6 80.6h0M339.8 85.4h0M362.1 238.5h0M378.7 88.3h0M378.8 94.5h0M374.6 162.7h0M221.0 30.3h0M376.0 203.0h0M377.9 88.5h0M381.7 79.0h0M264.4 36.8h0M339.7 69.5h0M221.0 46.5h0M253.8 43.2h0M350.9 324.3h0M213.2 37.9h0M302.1 38.3h0M376.9 161.5h0M357.4 324.3h0M340.5 120.1h0M196.4 82.2h0M322.3 82.5h0M260.2 50.2h0M216.1 37.9h0M339.1 124.5h0M328.3 122.5h0M287.2 82.2h0M240.1 41.6h0M213.0 39.1h0M381.2 203.0h0M339.6 72.7h0M334.2 122.5h0M358.6 203.0h0M225.1 27.0h0M379.5 161.5h0M204.0 82.2h0M333.0 80.8h0M226.7 38.4h0M339.1 122.5h0M229.1 41.6h0M226.9 52.9h0M362.8 85.4h0M258.7 33.0h0M222.6 43.2h0M226.4 56.2h0M342.1 81.0h0M376.4 91.7h0M227.7 43.2h0M379.8 163.9h0M377.3 69.5h0M358.9 198.4h0M222.4 36.7h0M232.3 44.1h0M252.3 39.1h0M187.0 82.2h0M324.5 81.6h0M378.3 162.7h0M338.0 124.0h0M376.4 71.1h0M222.5 52.9h0M378.9 86.8h0M351.8 82.2h0M262.9 46.1h0M302.0 82.2h0M224.1 52.9h0M369.1 161.1h0M381.9 83.8h0M252.4 44.1h0M233.2 40.4h0M226.7 46.5h0M226.5 54.5h0M343.5 80.3h0M227.8 41.6h0M374.8 80.6h0M215.9 45.4h0M217.1 37.9h0M369.2 154.8h0M258.0 46.8h0M260.2 41.6h0M343.7 82.2h0M256.2 46.9h0M371.5 175.4h0M374.5 155.5h0M256.4 45.1h0M202.0 82.2h0M338.0 80.6h0M339.8 82.2h0M221.2 31.9h0M342.0 119.6h0M222.8 49.7h0M261.0 82.2h0M255.0 38.6h0M331.0 122.5h0M331.7 83.4h0M224.1 51.3h0M260.6 34.7h0M210.2 42.3h0M306.0 38.8h0M339.5 79.0h0M226.6 43.2h0M378.3 161.1h0M319.2 82.2h0M336.9 93.5h0M227.9 30.3h0M374.6 83.8h0M370.2 150.0h0M361.9 249.9h0M383.9 162.3h0M214.7 37.9h0M336.8 75.8h0M400.4 81.8h0M230.7 43.2h0M222.5 44.8h0M381.3 162.7h0M341.1 87.0h0M227.9 48.1h0M219.7 38.9h0M181.3 82.2h0M227.8 44.8h0M229.2 56.2h0M382.1 163.3h0M338.2 77.4h0M376.8 163.9h0M253.8 44.9h0M226.7 35.1h0M188.9 82.2h0"/>
</g>
<rect x="225.80" y="405.9" width="1.0" height="4.4" fill="#3a3a3a"/>
<rect x="361.40" y="405.9" width="1.0" height="4.4" fill="#3a3a3a"/>
<rect x="497.50" y="405.9" width="1.0" height="4.4" fill="#3a3a3a"/>
<text x="226.9" y="431.9" class="tk" text-anchor="middle">−0.2</text>
<text x="361.9" y="431.9" class="tk" text-anchor="middle">0.0</text>
<text x="497.4" y="431.9" class="tk" text-anchor="middle">0.2</text>
<text x="386.9" y="458.9" class="xl" text-anchor="middle">Shapley Values - Impact on model</text>
<text x="336.9" y="489.9" class="cap" text-anchor="middle">(c)</text>
<text y="52.4" class="yl"><tspan x="12.4">Kc</tspan><tspan class="up" dx="1.0">(</tspan><tspan dx="-0.4">d</tspan><tspan class="up" x="76.2">−</tspan><tspan class="up" x="103.3">1)</tspan></text>
<text x="129.5" y="92.5" class="yl" text-anchor="end">Sin</text>
<text x="129.5" y="132.8" class="yl" text-anchor="end">Ws</text>
<text x="129.5" y="173.0" class="yl" text-anchor="end">H</text>
<text x="129.5" y="213.3" class="yl" text-anchor="end">Rs</text>
<text y="254.2" class="yl"><tspan x="12.4">Kc</tspan><tspan class="up" dx="1.0">(</tspan><tspan dx="-0.4">d</tspan><tspan class="up" x="76.2">−</tspan><tspan class="up" x="103.3">2)</tspan></text>
<text x="129.5" y="293.9" class="yl" text-anchor="end">Tmean</text>
<text x="128.3" y="334.6" class="yl" text-anchor="end">Tmax</text>
<text x="129.5" y="375.1" class="yl" text-anchor="end">Tmin</text>
<rect x="653.2" y="1.7" width="1.8" height="402.9" fill="#f1f0f7"/>
<rect x="653.1" y="181.9" width="2.0" height="42" fill="url(#cb)"/>
<text x="658.0" y="186.1" class="cbt">High</text><text x="658.0" y="227.5" class="cbt">Low</text>
<text transform="translate(683.2,204) rotate(-90)" class="cbl" text-anchor="middle" textLength="61" lengthAdjust="spacing">Feature value</text>
<rect x="133.0" y="535.0" width="457.2" height="403.2" fill="#eaeaf2"/>
<rect x="133.0" y="574.70" width="457.2" height="1.4" fill="#fafafd"/>
<rect x="133.0" y="615.09" width="457.2" height="1.4" fill="#fafafd"/>
<rect x="133.0" y="655.48" width="457.2" height="1.4" fill="#fafafd"/>
<rect x="133.0" y="695.87" width="457.2" height="1.4" fill="#fafafd"/>
<rect x="133.0" y="736.26" width="457.2" height="1.4" fill="#fafafd"/>
<rect x="133.0" y="776.65" width="457.2" height="1.4" fill="#fafafd"/>
<rect x="133.0" y="817.04" width="457.2" height="1.4" fill="#fafafd"/>
<rect x="133.0" y="857.43" width="457.2" height="1.4" fill="#fafafd"/>
<rect x="133.0" y="897.82" width="457.2" height="1.4" fill="#fafafd"/>
<rect x="159.70" y="535.0" width="1.4" height="403.2" fill="#fafafd"/>
<rect x="244.70" y="535.0" width="1.4" height="403.2" fill="#fafafd"/>
<rect x="414.80" y="535.0" width="1.4" height="403.2" fill="#fafafd"/>
<rect x="500.00" y="535.0" width="1.4" height="403.2" fill="#fafafd"/>
<rect x="585.30" y="535.0" width="1.4" height="403.2" fill="#fafafd"/>
<rect x="329" y="535.0" width="1" height="403.2" fill="#bdbdc1"/>
<rect x="330" y="535.0" width="1" height="403.2" fill="#f8f8fc"/>
<g fill="none" stroke-width="3.90" stroke-linecap="round">
<path stroke="#008bfb" d="M306.9 614.1h0M205.2 579.7h0M225.3 566.6h0M176.9 575.3h0M218.8 567.5h0M303.6 647.7h0M293.8 646.2h0M341.1 746.5h0M295.4 646.2h0M287.4 657.6h0M338.6 738.2h0M232.0 571.2h0M307.2 611.0h0M308.9 777.0h0M178.3 575.3h0M345.0 742.5h0M178.2 574.2h0M320.5 810.5h0M204.0 571.6h0M339.8 744.5h0M343.7 735.1h0M285.5 615.6h0M302.3 647.2h0M295.2 662.2h0M211.6 566.4h0M185.9 574.0h0M232.3 578.0h0M225.4 577.0h0M170.2 575.3h0M316.9 655.8h0M284.1 615.6h0M310.1 694.5h0M226.8 563.1h0M307.3 660.8h0M353.3 737.1h0M246.5 615.6h0M302.0 645.5h0M297.5 695.3h0M306.2 670.4h0M228.2 576.8h0M245.7 577.4h0M304.8 660.7h0M174.0 578.3h0M230.7 578.8h0M214.2 564.8h0M258.8 615.6h0M221.4 575.3h0M236.4 573.4h0M296.5 662.2h0M178.2 577.4h0M211.6 578.3h0M285.9 660.4h0M289.9 655.8h0M306.1 654.2h0M353.5 736.1h0M208.9 580.5h0M367.8 612.4h0M182.1 576.7h0M363.8 620.6h0M309.5 776.5h0M312.7 618.9h0M293.8 654.2h0M203.7 573.5h0M195.7 576.6h0M233.5 572.1h0M240.2 575.3h0M296.5 654.2h0M298.2 651.5h0M278.9 615.6h0M226.8 573.8h0M206.1 573.6h0M299.2 657.2h0M284.7 658.9h0M306.0 652.6h0M211.7 567.9h0M354.7 736.6h0M306.5 642.9h0M220.1 565.5h0M309.5 777.5h0M235.9 575.3h0M212.0 569.4h0M248.2 573.0h0M243.1 577.2h0M311.2 693.6h0M348.1 733.1h0M303.5 663.9h0M303.3 655.8h0M226.6 586.0h0M215.7 567.3h0M164.4 574.3h0M219.8 567.1h0M303.6 659.0h0M218.6 587.8h0M296.7 777.0h0M316.3 818.6h0M305.0 649.3h0M313.6 623.9h0M156.3 575.3h0M221.5 568.5h0M349.4 734.3h0M355.9 736.6h0M341.2 733.3h0M280.0 615.6h0M294.1 660.6h0M288.5 657.1h0M308.8 651.7h0M200.9 575.3h0M314.1 693.1h0M239.0 575.3h0M230.6 577.0h0M341.2 736.6h0M160.8 576.0h0M220.0 575.3h0M343.6 742.7h0M172.9 575.3h0M281.5 615.6h0M311.5 655.8h0M345.3 730.7h0M284.4 657.3h0M232.2 576.7h0M200.8 573.9h0M310.0 697.7h0M217.4 582.1h0M324.3 819.1h0M320.2 825.8h0M250.0 615.6h0M217.2 580.4h0M342.2 744.9h0M318.2 653.5h0M213.1 583.5h0M221.4 561.7h0M301.0 663.5h0M306.2 659.0h0M210.3 569.0h0M313.2 658.4h0M196.8 575.3h0M207.9 573.8h0M196.8 573.7h0M258.8 579.1h0M229.6 577.0h0M315.9 654.3h0M198.2 575.3h0M171.5 572.8h0M291.2 654.3h0M292.9 655.8h0M337.0 729.0h0M341.1 730.0h0M229.7 568.7h0M221.2 573.6h0M304.9 667.1h0M225.2 587.4h0M300.1 694.2h0M317.8 818.6h0M206.2 578.8h0M288.6 655.8h0M282.6 615.6h0M345.2 738.1h0M218.3 586.3h0M304.6 644.5h0M314.7 657.6h0M339.7 733.4h0M227.8 566.1h0M171.2 574.0h0M313.3 775.5h0M215.9 576.9h0M319.1 818.9h0M172.4 572.5h0M300.8 660.4h0M206.1 615.6h0M197.5 615.6h0M193.0 574.0h0M300.6 652.7h0M295.6 665.4h0M224.3 580.2h0M217.3 565.1h0M228.1 573.8h0M179.2 577.2h0M294.3 649.4h0M351.3 857.7h0M342.6 728.3h0"/>
<path stroke="#0084f9" d="M199.9 576.5h0M214.4 573.8h0M301.0 777.0h0M301.9 698.7h0M226.5 578.4h0M284.2 651.1h0M314.9 613.9h0M175.1 576.7h0M194.4 574.0h0M337.0 727.5h0M313.9 610.6h0M225.6 571.8h0M311.4 617.3h0M312.5 694.6h0M208.0 570.8h0M163.4 576.2h0M186.1 575.3h0M317.3 657.1h0M318.4 658.1h0M175.5 575.3h0M246.7 577.5h0M246.8 573.1h0M325.9 898.1h0M220.1 562.2h0M308.4 620.3h0M249.4 575.3h0M304.6 647.7h0M312.3 604.0h0M319.1 814.1h0M218.9 580.0h0M313.6 612.3h0M252.1 578.0h0M199.8 572.9h0M233.2 575.3h0M301.1 649.6h0M218.3 581.6h0M188.8 574.0h0M224.1 560.7h0M306.1 697.8h0M213.2 575.3h0M327.4 896.5h0M321.7 812.2h0M319.1 822.1h0M174.0 572.3h0M221.0 580.4h0M306.8 618.7h0M300.2 628.9h0M337.2 739.6h0M174.1 573.8h0M252.0 576.7h0M303.6 646.1h0M292.4 650.8h0M212.0 573.8h0M313.8 615.6h0M225.4 568.4h0M317.8 816.0h0M204.9 578.3h0M301.1 658.9h0M297.9 661.5h0M312.4 620.6h0M292.9 654.1h0M314.5 659.3h0M218.5 575.3h0M308.6 623.4h0M193.1 575.3h0M201.3 578.1h0M203.9 577.1h0M236.1 577.2h0M283.0 655.8h0M218.3 576.9h0"/>
<path stroke="#007cf5" d="M316.6 617.1h0M258.9 572.8h0M303.2 623.3h0M349.0 738.9h0M369.3 618.0h0M298.7 608.9h0M404.7 615.6h0M313.9 605.7h0M304.8 692.8h0M367.8 610.8h0M337.3 745.7h0M246.7 575.3h0M310.1 654.3h0M300.4 605.6h0M227.0 587.5h0M295.6 660.6h0M365.0 613.9h0M298.9 605.6h0M313.7 609.0h0M337.3 725.9h0M256.5 573.6h0M320.4 819.0h0M310.9 602.4h0M319.1 820.5h0M214.7 584.3h0M315.5 689.8h0M260.3 575.3h0M323.9 659.0h0M311.6 698.6h0M365.5 610.6h0M339.8 741.4h0M345.3 736.6h0M257.6 575.3h0M305.8 696.1h0M339.7 746.1h0M321.5 820.7h0"/>
<path stroke="#0075f0" d="M407.7 612.7h0M328.7 895.1h0M318.4 777.0h0M362.4 618.3h0M263.0 573.9h0M256.2 575.3h0M400.9 613.0h0M403.6 617.4h0M335.6 738.3h0M273.6 579.5h0M346.7 736.6h0M406.5 617.2h0M322.8 655.8h0M402.2 620.2h0M316.5 697.7h0M328.8 892.1h0M410.5 614.4h0M409.1 612.2h0M258.8 576.6h0M262.9 572.5h0M314.0 696.1h0M312.5 699.1h0M264.3 579.7h0M408.7 617.3h0M362.4 612.9h0M405.0 612.0h0M335.9 727.9h0M272.4 573.8h0M311.2 615.6h0M361.3 615.6h0M403.5 613.8h0M411.7 614.0h0"/>
<path stroke="#246cea" d="M338.2 730.4h0M260.4 576.6h0M328.0 652.5h0M300.2 607.3h0M318.1 703.5h0M403.8 619.2h0M311.0 610.6h0M261.7 571.2h0M325.3 643.9h0M325.0 667.7h0M326.5 655.8h0M333.5 659.6h0M377.6 615.6h0M336.1 734.9h0M319.8 778.4h0M264.3 576.8h0M267.0 573.7h0M275.1 571.3h0M420.9 615.6h0M325.0 662.6h0M338.4 747.5h0M414.6 614.9h0M329.2 654.1h0M269.7 573.7h0M410.5 616.8h0M318.8 778.7h0M267.4 576.9h0M270.0 572.1h0M335.7 726.2h0M336.8 747.3h0M326.4 667.4h0M271.0 576.9h0M326.3 649.1h0M323.7 657.4h0M415.6 615.2h0M411.4 617.2h0M402.2 612.5h0M321.2 654.8h0M268.7 572.1h0M266.1 570.8h0"/>
<path stroke="#4b63e3" d="M319.7 691.1h0M283.4 575.3h0M318.0 690.2h0M274.1 575.3h0M368.3 618.8h0M279.3 572.0h0M398.0 614.0h0M322.4 762.2h0M317.4 781.0h0M331.6 614.6h0M275.4 572.7h0M319.5 699.4h0M330.9 651.4h0M326.0 691.4h0M314.2 700.6h0M393.7 615.6h0M276.5 574.1h0M327.9 657.5h0M301.7 625.6h0M326.5 662.5h0M271.0 573.7h0M331.7 733.3h0M343.5 615.6h0M328.0 660.8h0M325.5 645.6h0M326.7 650.8h0M276.5 575.3h0M402.4 611.0h0M399.3 613.0h0M272.5 576.8h0M326.5 665.8h0M412.7 616.7h0M291.2 575.3h0M273.6 571.1h0M275.1 575.3h0M330.1 725.5h0M326.3 659.1h0M285.0 575.3h0"/>
<path stroke="#635adb" d="M376.3 615.2h0M334.6 738.3h0M320.7 575.3h0M331.9 657.1h0M334.3 610.7h0M321.2 782.0h0M328.8 687.3h0M319.4 701.1h0M290.4 574.2h0M322.4 697.7h0M330.3 896.5h0M328.0 650.8h0M319.3 704.4h0M332.8 575.3h0M328.0 665.8h0M321.4 780.3h0M322.8 763.9h0M323.8 686.5h0M317.6 617.2h0M284.7 573.2h0M329.1 659.2h0M319.6 697.8h0M373.5 615.1h0M330.4 893.3h0M328.2 649.1h0M326.7 664.1h0M410.4 613.2h0M331.5 738.2h0M325.7 856.2h0M280.9 578.3h0M337.7 654.5h0M287.2 575.3h0M282.1 576.6h0M278.0 575.3h0M316.6 704.3h0"/>
<path stroke="#754fd1" d="M333.3 741.5h0M323.6 652.6h0M324.1 783.7h0M331.6 731.7h0M333.0 726.8h0M284.7 574.3h0M310.9 817.3h0M324.6 696.1h0M322.8 767.2h0M292.6 576.1h0M334.3 726.5h0M325.4 775.4h0M322.0 608.9h0M333.5 654.5h0M330.9 658.7h0M334.6 731.5h0M323.6 697.7h0M339.0 655.8h0M340.8 575.3h0M335.6 575.3h0M354.1 575.3h0M330.6 652.9h0M331.5 735.0h0M326.8 784.0h0M327.9 783.2h0M329.0 731.8h0M322.5 765.5h0"/>
<path stroke="#8443c6" d="M347.7 575.3h0M360.6 575.3h0M333.4 728.5h0M322.6 790.1h0M317.8 610.9h0M337.5 655.8h0M323.4 696.1h0M324.6 688.0h0M321.1 686.2h0M328.5 613.8h0M326.4 688.3h0M328.9 730.2h0M334.4 745.0h0M322.7 772.1h0M322.5 777.0h0M332.6 864.5h0M332.2 818.8h0M334.4 696.1h0M324.4 605.5h0M330.4 736.6h0M344.0 662.7h0M335.6 621.3h0"/>
<path stroke="#9135ba" d="M326.0 700.8h0M329.0 741.4h0M330.9 780.0h0M323.3 699.3h0M334.3 859.2h0M330.1 691.5h0M330.8 778.5h0M324.1 770.3h0M341.7 651.2h0M326.7 768.3h0M342.9 646.5h0M332.3 775.4h0M326.2 693.0h0M328.6 619.2h0M326.0 699.2h0M327.5 693.0h0M329.4 774.1h0M335.1 815.8h0M339.5 612.1h0M324.4 610.6h0M328.8 899.6h0M327.5 697.6h0M340.2 647.9h0M328.2 784.8h0M330.5 741.4h0M312.3 817.3h0M324.7 691.2h0M324.6 608.9h0M332.1 768.8h0M344.0 648.9h0M320.8 615.6h0M327.5 702.3h0M345.7 654.2h0M337.2 658.5h0M328.9 723.8h0M323.6 694.5h0M341.7 668.2h0M357.1 575.3h0M327.6 699.2h0"/>
<path stroke="#9b24ad" d="M319.3 615.6h0M324.5 619.0h0M417.0 578.4h0M324.9 692.8h0M328.4 817.3h0M346.8 651.1h0M329.6 825.4h0M340.5 652.6h0M330.4 697.6h0M326.8 773.5h0M336.1 696.1h0M333.2 703.8h0M345.6 662.0h0M344.2 645.4h0M339.1 820.7h0M335.8 655.8h0M330.6 775.5h0M404.8 575.3h0M320.5 625.3h0M333.5 763.6h0M339.1 654.3h0M336.2 654.5h0M325.1 734.9h0M329.1 739.8h0M330.2 699.1h0M349.0 575.3h0M324.6 625.7h0M330.2 733.4h0M333.8 782.0h0M341.6 641.9h0M339.0 660.3h0M329.5 781.4h0M324.3 785.4h0M326.2 733.4h0M326.6 703.9h0M328.0 781.7h0M342.8 658.9h0M388.9 575.3h0M324.0 787.1h0M336.7 618.5h0M430.8 576.8h0M413.1 568.1h0M327.9 773.9h0M332.3 785.2h0M341.4 649.6h0M345.8 660.5h0M333.2 689.9h0M411.8 573.9h0"/>
<path stroke="#ac16a7" d="M329.0 697.6h0M419.9 572.0h0M407.4 578.7h0M336.5 784.7h0M422.8 576.7h0M415.9 582.0h0M336.0 704.5h0M334.1 854.8h0M333.2 693.0h0M409.0 576.7h0M406.4 579.7h0M330.0 849.5h0M347.4 857.7h0M328.9 696.1h0M336.8 621.5h0M421.0 573.9h0M337.0 696.1h0M440.3 573.1h0M336.9 685.9h0M402.2 575.3h0M327.7 722.4h0M403.3 578.3h0M327.3 620.6h0M332.0 697.8h0M338.4 699.1h0M331.9 682.4h0M395.6 575.3h0M335.1 775.3h0M319.4 617.2h0M342.1 618.1h0M336.1 780.1h0M330.5 702.2h0M331.2 616.6h0M344.3 667.9h0M323.0 608.9h0M417.0 579.9h0M325.2 745.1h0M329.3 778.5h0M437.5 575.3h0M332.9 683.7h0M338.0 857.7h0M341.6 816.2h0M418.3 573.9h0M333.0 705.4h0M411.6 582.5h0M409.0 572.4h0M350.0 654.4h0M334.3 685.3h0M330.3 906.1h0M345.4 649.6h0M419.9 570.4h0M424.0 572.7h0M403.9 576.8h0M416.1 577.0h0M329.7 772.6h0M452.4 574.0h0M327.4 615.6h0"/>
<path stroke="#bb00a0" d="M434.6 574.0h0M327.8 749.3h0M336.5 767.7h0M336.5 815.7h0M445.4 573.5h0M340.3 660.6h0M352.1 655.8h0M337.0 691.0h0M423.6 579.1h0M397.0 575.3h0M328.6 864.6h0M425.1 575.3h0M415.5 575.3h0M340.7 857.7h0M335.7 707.8h0M348.0 652.8h0M323.5 739.7h0M415.8 578.7h0M414.3 571.0h0M343.0 652.7h0M319.0 857.7h0M424.2 571.5h0M348.5 658.8h0M411.8 581.0h0M337.1 692.7h0M340.4 654.2h0M335.2 771.9h0M416.9 581.4h0M419.7 575.3h0M429.3 573.8h0M435.0 572.7h0M336.3 777.0h0M337.7 818.6h0M321.9 617.3h0M396.8 574.9h0M321.7 624.0h0M437.5 574.1h0M334.6 694.6h0M398.0 574.6h0M347.0 655.8h0M330.8 772.6h0M334.4 688.4h0M426.5 577.0h0M420.9 576.7h0M349.8 651.5h0M328.8 733.4h0M351.1 659.4h0M333.7 768.6h0M335.0 823.4h0M414.4 569.6h0M331.6 687.6h0M335.1 856.5h0M334.2 697.6h0M421.3 571.0h0"/>
<path stroke="#c90098" d="M330.6 785.9h0M339.9 687.4h0M449.8 575.3h0M340.4 818.7h0M440.0 576.4h0M328.5 612.0h0M333.8 773.7h0M340.9 694.4h0M329.1 694.6h0M326.0 621.8h0M335.0 787.2h0M446.7 577.0h0M449.9 573.8h0M339.3 857.7h0M413.3 576.7h0M324.5 856.6h0M331.1 782.9h0M449.8 576.8h0M325.8 607.8h0M410.2 568.9h0M335.7 702.8h0M326.5 742.9h0M441.6 573.2h0M335.5 694.4h0M353.8 654.4h0M335.1 770.2h0M334.9 768.5h0M320.7 607.5h0M323.4 622.3h0M450.8 575.3h0M323.6 733.5h0M324.7 738.3h0M325.0 723.1h0M337.6 789.4h0"/>
<path stroke="#d5008f" d="M338.5 700.6h0M352.2 660.5h0M323.6 736.6h0M337.8 763.1h0M332.7 852.6h0M338.7 703.6h0M323.9 735.0h0M337.0 857.7h0M327.2 608.9h0M331.4 692.7h0M324.9 733.2h0M328.7 861.2h0M325.8 860.6h0M341.8 778.7h0M334.7 765.1h0M343.8 699.6h0M343.7 701.3h0M332.5 765.5h0M331.5 847.4h0M341.4 699.5h0M352.5 652.7h0M332.3 767.1h0M326.2 738.2h0M325.7 862.1h0M337.4 783.2h0M338.0 817.3h0M336.3 769.3h0M337.8 766.2h0"/>
<path stroke="#e00086" d="M325.8 859.2h0M347.8 615.6h0M322.2 728.8h0M338.2 621.5h0M330.1 846.2h0M322.6 730.4h0M338.4 690.1h0M331.6 906.1h0M330.4 885.3h0M340.1 701.3h0M347.5 617.0h0M322.6 746.0h0M324.9 724.8h0M322.5 727.2h0M345.0 691.6h0M349.1 614.3h0M463.5 575.0h0M326.0 620.3h0M337.5 775.5h0M349.6 657.2h0M335.4 611.3h0M328.9 862.9h0"/>
<path stroke="#e9007c" d="M325.9 853.3h0M462.0 575.8h0M337.5 781.6h0M337.7 814.6h0M327.4 849.5h0M330.4 909.3h0M346.9 691.2h0M461.9 575.3h0M316.3 614.1h0M323.5 738.2h0M322.2 744.4h0M357.4 614.5h0M353.1 616.8h0M343.0 781.7h0M360.0 616.8h0M460.6 576.0h0M340.1 770.9h0M328.5 852.5h0M341.7 782.1h0M313.8 625.5h0M321.1 734.8h0"/>
<path stroke="#f20072" d="M344.2 692.6h0M346.7 692.8h0M343.7 704.8h0M308.6 612.5h0M321.2 731.3h0M320.7 738.4h0M327.4 865.9h0M343.2 772.3h0M319.8 736.6h0M331.5 859.4h0M342.9 775.4h0M330.2 888.5h0M327.4 857.7h0M344.2 775.6h0"/>
<path stroke="#f90067" d="M356.4 655.8h0M316.6 611.1h0M411.7 575.3h0M358.8 695.2h0M351.8 614.4h0M302.1 737.7h0M345.3 693.1h0M320.4 857.7h0M321.2 741.9h0M311.2 628.8h0M314.1 733.9h0M311.2 605.7h0M332.9 859.4h0M347.1 779.1h0M318.4 736.6h0M343.9 687.4h0M344.7 781.1h0M298.1 736.2h0M318.0 739.1h0M382.5 655.8h0M340.4 777.0h0M348.3 693.2h0"/>
<path stroke="#fe005c" d="M334.6 659.5h0M347.9 694.7h0M378.3 655.8h0M517.5 568.7h0M362.0 654.1h0M502.5 573.0h0M363.3 655.8h0M360.5 696.6h0M331.3 810.8h0M496.8 573.8h0M349.1 692.8h0M562.3 576.2h0M521.6 576.6h0M314.0 736.6h0M330.3 886.9h0M317.2 737.9h0M301.5 622.3h0M510.8 573.6h0M514.4 567.5h0M515.7 576.9h0M561.8 574.4h0M367.4 654.5h0M298.8 612.3h0M361.7 645.5h0M316.6 735.3h0M543.3 573.4h0M307.2 615.6h0M534.9 573.7h0M304.6 734.9h0M308.2 609.3h0M365.7 654.3h0M503.8 575.3h0M511.8 578.2h0M555.4 577.0h0M509.3 578.3h0M512.2 581.1h0M331.7 904.5h0M346.7 697.7h0M346.8 689.5h0M320.9 729.6h0M510.8 575.3h0M329.8 827.0h0M360.6 652.5h0M332.1 825.0h0M328.5 813.0h0M364.7 650.6h0M313.6 622.2h0M412.8 579.6h0M332.7 817.3h0M508.1 574.0h0M327.2 822.2h0M520.0 572.2h0M360.2 650.8h0M356.3 696.1h0M343.3 784.8h0M525.7 574.0h0M303.2 617.1h0M559.5 575.3h0M334.6 900.2h0M433.1 576.7h0M346.6 701.0h0M513.3 581.1h0"/>
<path stroke="#ff0051" d="M554.1 573.5h0M362.0 643.8h0M517.4 570.3h0M332.9 898.1h0M314.1 739.3h0M538.8 573.7h0M549.9 574.2h0M344.5 817.3h0M303.2 615.6h0M310.2 738.2h0M514.4 576.9h0M527.1 575.3h0M366.1 652.8h0M301.8 607.3h0M350.4 691.9h0M359.2 654.1h0M344.1 778.4h0M300.5 608.9h0M521.7 571.3h0M306.2 735.6h0M347.9 701.8h0M333.8 817.3h0M300.2 625.6h0M371.2 655.8h0M298.6 602.3h0M363.1 648.9h0M548.3 576.4h0M363.1 662.7h0M526.6 576.4h0M514.9 570.6h0M328.3 847.3h0M379.6 653.4h0M482.2 575.3h0M496.8 576.8h0M361.6 662.7h0M329.7 810.8h0M521.6 579.3h0M290.7 736.6h0M379.5 654.6h0M361.9 647.2h0M330.8 806.0h0M360.2 660.8h0M514.9 578.4h0M474.3 575.3h0M306.0 737.6h0M480.7 575.3h0M301.9 608.9h0M315.6 734.9h0M547.3 576.4h0M507.6 576.6h0M356.1 694.3h0M370.1 657.8h0M298.9 613.9h0M503.8 578.0h0M511.9 575.3h0M319.4 733.6h0M501.3 576.3h0M516.2 570.6h0M332.3 808.0h0M297.6 615.6h0M328.1 823.1h0M363.1 666.1h0M360.7 665.8h0M363.2 664.4h0M329.9 802.7h0M334.0 818.8h0M543.3 575.3h0M329.8 817.3h0M486.3 575.3h0M300.1 623.9h0M528.3 575.3h0M289.5 615.6h0M331.4 891.7h0M335.7 898.1h0M490.2 575.3h0M306.8 696.1h0M491.7 574.3h0M353.5 698.9h0M301.6 628.9h0M543.1 577.2h0M332.7 826.6h0M309.1 739.4h0M331.8 896.5h0M499.5 577.1h0M302.9 607.9h0M547.5 575.3h0M521.4 572.7h0M483.5 574.8h0M494.4 575.3h0M357.3 694.9h0M353.4 697.5h0M361.8 642.1h0M329.8 804.4h0M345.6 773.6h0M358.1 651.7h0M376.9 658.2h0M368.4 658.6h0M563.2 576.0h0M345.8 817.3h0M331.3 823.8h0M296.0 617.2h0M526.9 574.2h0M507.8 578.0h0M490.6 576.2h0M355.0 695.0h0M329.5 814.1h0M491.7 575.3h0M294.7 615.6h0M521.4 574.0h0M526.8 577.5h0M372.7 653.8h0M383.7 654.8h0M305.0 738.3h0M506.6 573.5h0M300.3 617.3h0M360.3 669.1h0M313.6 857.7h0M540.7 577.0h0M364.3 655.8h0M312.9 735.2h0M331.2 852.6h0M330.8 831.9h0M329.4 830.2h0M487.3 575.3h0M524.2 575.3h0M301.7 602.3h0M300.4 602.3h0M495.9 574.0h0M362.2 660.9h0M347.3 777.0h0M567.2 575.3h0M301.5 605.6h0M331.0 825.4h0M345.6 780.4h0M333.1 899.5h0M490.6 574.4h0M533.7 573.7h0M365.9 658.8h0M363.4 667.8h0M362.1 669.5h0M310.0 739.8h0"/>
<path stroke="#ff0051" d="M360.3 664.1h0M346.0 775.3h0M554.0 575.3h0M298.0 737.0h0M311.8 740.2h0M307.5 739.0h0M372.7 656.8h0M351.9 696.1h0M301.3 612.3h0M332.6 811.1h0M346.5 617.1h0M360.3 642.5h0M380.7 653.9h0M494.6 576.5h0M489.1 574.5h0M559.1 574.1h0M358.9 655.8h0M505.4 573.8h0M513.3 576.7h0M480.9 575.6h0M544.3 573.3h0M552.5 575.3h0M566.2 575.3h0M333.9 809.9h0M302.0 736.6h0M546.0 573.2h0M382.4 657.3h0M532.1 576.9h0M533.7 575.3h0M529.8 573.5h0M366.0 655.8h0M329.9 815.7h0M299.0 627.3h0M362.1 648.9h0M509.2 570.8h0M346.9 774.9h0M501.4 574.3h0M304.7 736.6h0M332.6 812.7h0M489.2 575.3h0M327.2 812.4h0M350.7 694.7h0M312.6 733.9h0M364.6 664.4h0M514.5 583.1h0M482.0 575.7h0M358.6 615.6h0M330.9 822.2h0M566.0 575.6h0M363.4 645.5h0M359.3 662.6h0M518.5 572.5h0M517.4 575.3h0M479.5 575.3h0M301.9 623.9h0M502.5 575.3h0M333.6 820.2h0M514.9 575.3h0M359.4 650.7h0M296.1 615.6h0M347.8 699.0h0M378.1 657.1h0M366.0 660.3h0M363.3 654.1h0M301.6 627.3h0M468.3 575.3h0M374.0 656.9h0M507.8 579.3h0M472.4 575.3h0M310.0 857.7h0M509.3 575.3h0M315.7 733.2h0M306.1 738.6h0M510.6 580.4h0M498.4 576.9h0M328.9 856.0h0M513.4 575.3h0M481.9 574.9h0M303.2 618.7h0M495.4 575.3h0M364.6 661.0h0M293.3 614.9h0M442.7 575.3h0M359.5 659.2h0M330.8 812.4h0M541.9 577.1h0M347.0 776.0h0M551.4 574.2h0M551.2 575.3h0M522.5 572.0h0M329.6 807.6h0M384.7 655.8h0M519.0 580.8h0M517.1 573.6h0M501.0 575.3h0M360.5 659.1h0M330.8 809.2h0M367.1 652.0h0M550.1 573.1h0M352.0 699.5h0M512.0 571.0h0M515.7 575.3h0M297.3 618.2h0M374.3 657.9h0M312.6 613.9h0M505.2 572.2h0M376.9 655.8h0M298.8 620.6h0M297.6 616.9h0M334.4 897.1h0M327.1 820.6h0M298.7 618.9h0M513.2 568.1h0M364.3 652.4h0M379.3 657.0h0M560.9 576.4h0M529.4 575.3h0M363.0 642.1h0M309.1 736.6h0M305.8 619.4h0M375.3 653.5h0M562.4 575.3h0M308.6 738.0h0M491.8 576.3h0M357.7 696.1h0M326.9 814.0h0M485.0 574.7h0M325.5 820.9h0M295.1 616.8h0M522.6 573.7h0M300.4 622.3h0M559.6 576.5h0M350.6 693.3h0M545.8 575.3h0M364.6 659.2h0M332.3 809.6h0M312.7 738.0h0M349.4 696.1h0M528.5 573.3h0M551.3 577.4h0M549.6 576.4h0M329.4 809.2h0"/>
<path stroke="#fe005c" d="M522.9 578.6h0M301.3 613.9h0M507.9 571.3h0M341.6 766.8h0M319.8 738.1h0M383.8 656.8h0M358.0 657.2h0M349.5 699.4h0M516.3 573.7h0M360.4 649.2h0M360.5 654.1h0M357.6 659.9h0M502.3 577.6h0M486.2 574.6h0M530.9 577.0h0M564.9 575.8h0M525.7 572.8h0M359.2 660.9h0M361.6 655.8h0M297.5 613.0h0M517.5 578.6h0M350.5 698.9h0M509.4 576.8h0M305.6 611.8h0M367.1 659.6h0M294.8 614.4h0M313.8 618.9h0M513.4 578.2h0M301.8 600.6h0M510.8 577.0h0M319.7 735.1h0M517.5 580.3h0M518.6 573.9h0M355.0 698.4h0M358.7 696.1h0M558.2 573.9h0M522.7 575.3h0M363.2 652.4h0M357.9 654.4h0M334.3 898.1h0M325.9 817.3h0M331.3 814.1h0M330.9 815.7h0M550.9 576.4h0M354.8 693.8h0M311.3 738.4h0M362.1 659.2h0M352.4 697.8h0M331.4 894.9h0M520.0 578.4h0M331.0 828.6h0M315.3 607.2h0M298.7 630.6h0M344.4 774.2h0M467.0 575.3h0M312.3 609.0h0M329.7 867.5h0"/>
<path stroke="#f90067" d="M312.5 615.6h0M357.7 655.8h0M352.0 694.4h0M319.9 732.1h0M360.3 644.2h0M379.3 658.2h0M345.4 688.5h0M356.2 659.0h0M354.7 615.6h0M313.7 628.8h0M343.2 778.6h0M344.6 782.5h0M296.6 736.6h0M356.4 657.4h0"/>
<path stroke="#f20072" d="M313.8 627.2h0M330.2 910.9h0M357.9 658.5h0M306.5 734.6h0M346.5 696.1h0M345.2 697.6h0M348.2 697.5h0M320.8 745.4h0M338.7 785.6h0M306.8 612.5h0M357.8 653.1h0M311.1 622.2h0M312.4 623.9h0M345.5 700.6h0M334.3 615.6h0M342.3 701.2h0M329.8 861.0h0"/>
<path stroke="#e9007c" d="M331.3 890.1h0M322.4 725.7h0M340.2 789.3h0M321.0 743.6h0M343.9 689.1h0M328.5 854.2h0M340.1 783.1h0M463.1 575.6h0M336.2 766.2h0M321.0 733.1h0M340.8 613.8h0M356.2 654.2h0M340.4 767.8h0M342.8 687.5h0M341.1 702.9h0M341.9 773.6h0M350.1 616.9h0"/>
<path stroke="#e00086" d="M353.5 659.9h0M338.8 789.0h0M355.4 657.6h0M337.6 767.7h0M323.6 728.8h0M320.8 617.2h0M342.6 699.5h0M355.3 652.2h0M309.9 603.9h0M337.8 780.1h0M343.8 703.1h0M345.4 699.1h0M337.9 773.9h0M354.5 614.5h0M339.7 694.4h0M341.8 785.5h0M327.6 617.3h0M341.8 768.5h0M312.4 612.3h0M337.2 697.8h0M328.9 859.4h0M339.3 782.1h0M332.9 850.9h0M355.0 655.8h0M316.4 620.1h0M342.5 685.8h0M337.6 777.0h0"/>
<path stroke="#d5008f" d="M323.5 742.8h0M344.2 696.1h0M338.7 773.6h0M334.2 710.0h0M334.7 782.1h0M325.0 743.4h0M354.4 616.8h0M304.0 615.6h0M340.4 781.6h0M348.9 615.6h0M333.9 857.7h0M339.4 813.9h0M358.7 614.5h0M445.6 575.3h0M331.4 694.4h0M339.8 692.6h0M341.3 704.7h0M338.2 705.0h0M452.1 576.6h0M458.0 575.3h0M336.0 770.8h0M338.9 765.0h0M335.3 609.9h0M335.3 821.9h0M322.6 741.3h0M341.0 696.1h0M337.7 786.3h0"/>
<path stroke="#c90098" d="M418.8 579.4h0M337.6 820.0h0M339.2 770.1h0M355.0 654.0h0M453.7 574.1h0M339.4 817.3h0M336.7 617.1h0M350.1 614.3h0M336.5 787.8h0M416.9 573.8h0M323.7 724.1h0M322.3 731.9h0M338.8 780.4h0M347.0 652.7h0M329.8 617.8h0M326.6 728.7h0M336.8 856.4h0M339.1 815.6h0M336.3 772.4h0M332.5 778.6h0M340.2 815.9h0M336.4 778.5h0M331.4 854.3h0M410.2 570.5h0M325.8 618.7h0M333.9 860.6h0M328.8 849.0h0M336.2 786.3h0M335.4 617.0h0M331.8 701.2h0M445.8 577.1h0M328.9 615.6h0M431.9 572.5h0M337.8 769.3h0M458.1 574.4h0M338.2 696.1h0M344.3 652.3h0M337.7 764.6h0"/>
<path stroke="#bb00a0" d="M432.3 578.1h0M411.8 571.0h0M447.2 573.6h0M344.7 857.7h0M338.7 766.7h0M446.7 575.3h0M436.2 576.6h0M434.9 576.6h0M334.9 766.8h0M341.0 611.9h0M339.9 704.8h0M334.7 682.2h0M326.2 727.1h0M366.1 575.3h0M327.6 619.0h0M343.1 815.9h0M324.8 729.8h0M427.9 576.9h0M410.3 580.1h0M437.7 577.7h0M324.9 748.4h0M410.4 578.5h0M346.7 662.1h0M438.7 577.6h0M333.0 706.9h0M338.8 787.3h0M399.5 574.3h0M338.9 819.0h0M327.3 856.1h0M341.9 815.1h0M411.4 578.2h0M330.2 705.2h0M324.3 855.5h0M426.8 571.9h0M441.4 577.4h0M409.2 579.6h0M448.5 573.7h0M339.9 696.1h0M433.2 578.0h0M415.5 573.6h0M344.0 657.5h0M418.4 569.8h0M457.9 576.2h0M441.6 575.3h0M340.1 690.9h0M346.7 660.5h0M348.6 654.3h0M408.9 571.0h0M433.2 572.6h0"/>
<path stroke="#ac16a7" d="M397.1 575.7h0M440.3 575.3h0M317.8 620.3h0M335.6 686.0h0M325.7 777.0h0M341.8 643.4h0M351.1 654.0h0M418.4 578.0h0M332.0 783.6h0M324.9 617.3h0M387.3 575.3h0M322.0 747.5h0M347.6 614.2h0M422.8 573.9h0M348.1 655.8h0M339.8 703.1h0M335.1 818.8h0M342.9 663.5h0M412.9 581.0h0M324.6 620.6h0M414.3 573.9h0M335.8 709.5h0M327.5 742.9h0M345.4 648.0h0M406.4 578.2h0M349.7 660.1h0M448.1 575.3h0M407.6 573.6h0M418.5 572.6h0M429.6 576.8h0M427.8 573.7h0M332.2 786.9h0M328.1 770.8h0M327.8 736.6h0M331.3 818.9h0M333.3 708.5h0M332.0 770.4h0M423.8 576.6h0M330.2 883.7h0M347.2 649.5h0M421.0 578.2h0M328.4 777.0h0M334.8 773.6h0M337.8 821.3h0M333.8 765.3h0M344.2 650.6h0M324.6 701.0h0M332.4 823.5h0M403.6 575.3h0M324.3 778.7h0M335.0 783.8h0M326.1 723.9h0M411.9 568.1h0M301.9 857.7h0M429.2 572.2h0M330.5 706.7h0M408.9 573.9h0M326.3 747.7h0M384.4 575.3h0M437.5 576.5h0M432.0 575.3h0M414.6 581.0h0M334.2 699.2h0"/>
<path stroke="#9b24ad" d="M331.7 726.7h0M333.6 770.3h0M336.1 684.4h0M375.2 575.3h0M329.4 779.9h0M322.1 708.7h0M409.2 578.2h0M327.7 723.9h0M402.4 573.0h0M341.5 665.1h0M343.4 817.3h0M398.3 575.3h0M332.0 773.7h0M424.2 575.3h0M324.2 766.9h0M336.9 704.6h0M422.7 572.6h0M332.9 688.4h0M402.5 576.4h0M343.0 649.6h0M335.0 817.3h0M342.7 655.8h0M321.8 607.2h0M414.3 582.5h0M332.7 821.9h0M342.7 641.9h0M321.7 615.6h0M341.3 648.1h0M332.9 857.7h0M328.9 746.2h0M325.0 702.6h0M400.8 575.3h0M321.9 612.2h0M320.3 610.7h0M319.4 621.9h0M334.9 657.6h0M327.4 613.9h0M344.9 617.1h0"/>
<path stroke="#9135ba" d="M329.2 749.4h0M330.6 731.8h0M330.5 700.7h0M327.8 696.1h0M328.4 869.9h0M323.0 780.3h0M323.0 785.2h0M329.3 777.0h0M344.3 659.3h0M329.4 784.3h0M336.6 812.4h0M339.9 657.4h0M327.7 725.5h0M342.2 575.3h0M323.1 857.7h0M342.6 668.2h0M342.9 660.4h0M326.2 606.3h0M331.2 849.1h0M332.5 617.0h0M324.8 697.7h0M319.0 610.9h0M367.9 575.3h0M322.1 700.8h0M321.9 691.4h0M320.3 605.9h0M330.7 738.2h0M332.9 702.3h0M344.0 661.0h0M320.7 707.6h0M330.8 774.0h0M359.8 575.3h0M329.2 775.5h0M363.6 575.3h0M304.2 617.1h0M324.0 772.0h0M323.9 788.8h0M322.4 686.7h0M410.1 573.7h0M323.5 620.6h0M342.7 654.3h0M336.0 658.3h0M323.4 691.3h0M328.9 744.6h0M381.3 615.6h0"/>
<path stroke="#8443c6" d="M322.0 704.0h0M338.6 658.8h0M358.3 575.3h0M322.0 710.2h0M380.3 575.3h0M342.2 614.3h0M292.5 817.3h0M300.2 817.3h0M325.4 772.1h0M351.7 575.3h0M327.3 859.3h0M328.6 845.5h0M321.0 699.4h0M328.4 775.4h0M335.8 653.3h0M306.0 618.2h0M324.6 612.2h0M319.8 687.8h0M350.3 575.3h0M321.9 613.9h0M331.6 708.1h0M323.0 768.8h0M320.8 701.0h0M336.8 612.7h0M330.3 703.7h0M330.1 746.1h0M337.1 620.0h0M320.6 614.0h0M330.3 728.7h0M295.6 574.8h0M333.0 685.3h0"/>
<path stroke="#754fd1" d="M320.0 779.7h0M320.9 684.6h0M331.9 654.5h0M327.3 899.7h0M294.1 574.7h0M330.3 575.3h0M324.4 777.0h0M298.0 575.3h0M288.9 576.5h0M333.2 653.2h0M328.8 702.0h0M293.1 575.3h0M330.6 696.1h0M371.8 615.6h0M331.2 575.3h0M333.2 652.0h0M282.1 575.3h0M330.5 727.1h0M325.2 783.6h0M333.2 655.8h0M324.7 689.6h0M325.0 699.4h0M324.8 705.9h0M336.6 575.3h0M291.5 576.2h0"/>
<path stroke="#635adb" d="M329.4 657.5h0M323.4 625.7h0M376.3 615.6h0M296.9 575.0h0M320.6 689.5h0M373.2 615.6h0M327.9 667.4h0M294.0 575.9h0M325.7 773.7h0M322.3 685.1h0M284.4 577.4h0M284.6 576.3h0M319.6 686.2h0M289.0 575.3h0M331.8 653.1h0M321.5 785.3h0M325.4 767.2h0M315.5 688.2h0M326.6 654.1h0M328.7 691.7h0M296.6 575.3h0M318.0 700.5h0M317.9 688.7h0M283.2 576.5h0M321.3 768.7h0M280.9 573.8h0M324.7 575.3h0M334.4 729.8h0M378.8 615.6h0M322.6 786.8h0"/>
<path stroke="#4b63e3" d="M335.9 729.7h0M330.4 657.3h0M401.0 616.9h0M272.6 575.3h0M329.1 896.6h0M335.6 731.4h0M272.7 572.4h0M315.1 702.4h0M313.3 575.3h0M324.9 654.1h0M318.5 773.7h0M276.7 579.0h0M275.3 577.9h0M329.1 904.1h0M256.5 578.7h0M328.2 659.1h0M272.4 578.2h0M329.6 660.9h0M317.8 691.7h0M319.4 694.4h0M338.6 744.4h0M279.3 573.7h0M318.8 775.3h0M321.9 702.4h0M373.2 616.1h0M329.9 902.9h0M328.6 575.3h0M337.3 730.5h0M277.7 571.8h0M312.9 697.6h0"/>
<path stroke="#246cea" d="M399.2 618.2h0M263.4 578.1h0M320.3 775.6h0M324.0 651.0h0M318.7 780.3h0M276.9 572.8h0M264.5 578.2h0M329.4 652.4h0M411.8 615.6h0M277.9 578.8h0M262.9 579.5h0M325.2 649.0h0M314.3 688.5h0M314.3 691.6h0M369.4 614.4h0M407.8 611.3h0M328.1 664.1h0M316.8 687.9h0M327.9 655.8h0M326.4 647.5h0M274.2 576.7h0M407.4 615.6h0M328.0 642.5h0M396.7 615.6h0M314.3 703.7h0M402.1 615.6h0M369.2 616.8h0M314.6 817.0h0M333.0 736.6h0"/>
<path stroke="#0075f0" d="M326.6 669.1h0M332.9 856.0h0M322.7 656.9h0M264.3 570.9h0M317.4 819.9h0M265.8 573.8h0M274.0 572.5h0M267.2 578.4h0M270.1 570.4h0M327.8 644.2h0M311.3 607.3h0M335.7 741.8h0M408.8 619.0h0M264.3 572.4h0M295.4 777.0h0M410.4 615.6h0M328.0 669.1h0M365.6 617.3h0M400.7 615.6h0M312.2 607.3h0M267.2 572.2h0M259.0 574.0h0M260.6 574.0h0M417.0 615.3h0M315.5 697.7h0M335.6 736.6h0M317.2 779.7h0M317.3 775.7h0M261.8 576.7h0M335.6 745.3h0M339.9 735.0h0M325.4 650.7h0M335.5 747.0h0M366.6 610.6h0M316.0 772.1h0M317.8 702.0h0M320.4 817.3h0M426.4 615.6h0M328.8 893.6h0"/>
<path stroke="#007cf5" d="M299.6 650.0h0M174.3 575.3h0M257.7 573.5h0M429.1 615.6h0M370.5 615.6h0M313.5 777.0h0M338.4 725.7h0M370.5 614.1h0M257.7 578.9h0M400.9 614.3h0M342.3 738.3h0M308.2 607.8h0M400.8 618.2h0M316.5 694.5h0M217.5 570.2h0M315.2 625.7h0M322.8 821.9h0M322.7 653.6h0M346.5 735.1h0M315.0 605.5h0M367.9 617.2h0M311.7 651.5h0M341.0 726.7h0M339.9 739.8h0M414.5 616.3h0M307.4 698.9h0M261.9 575.3h0M227.9 570.7h0M309.6 608.9h0M363.8 619.0h0M342.6 743.2h0M364.1 615.6h0M322.6 654.7h0M320.1 813.9h0M365.1 619.0h0M320.2 812.2h0M323.1 815.8h0M311.1 697.4h0M331.7 613.5h0M313.7 817.3h0M345.1 743.9h0M220.0 588.4h0M303.2 649.3h0M314.6 817.3h0M304.5 618.5h0M344.0 729.0h0M315.4 700.8h0M326.7 644.2h0M313.1 655.8h0M317.2 774.3h0M324.0 815.5h0M287.1 654.0h0M302.9 693.1h0M366.7 612.2h0M305.0 642.9h0"/>
<path stroke="#0084f9" d="M337.1 741.2h0M165.6 576.4h0M272.9 615.6h0M222.4 565.7h0M306.5 649.3h0M285.6 652.7h0M346.4 733.5h0M199.6 575.3h0M364.1 613.9h0M219.8 573.7h0M337.0 742.7h0M318.4 654.6h0M214.7 570.8h0M351.7 735.7h0M303.8 657.4h0M258.0 577.1h0M306.4 650.9h0M219.7 585.1h0M306.1 667.1h0M223.8 586.6h0M288.8 777.0h0M168.7 577.1h0M312.4 622.2h0M161.8 575.3h0M347.6 740.1h0M167.2 575.3h0M324.2 820.9h0M306.0 663.9h0M304.0 777.0h0M309.4 627.3h0M350.4 857.7h0M342.2 741.6h0M255.1 575.3h0M315.7 692.9h0M342.6 731.6h0M300.5 698.0h0M296.5 663.8h0M328.7 902.6h0M169.7 577.5h0M219.8 586.7h0M343.8 741.1h0M295.3 663.8h0M309.1 653.1h0M323.2 820.4h0M364.1 612.2h0M210.2 575.3h0M252.5 572.6h0M362.7 614.2h0M299.2 696.1h0M222.8 560.9h0M316.6 609.6h0M311.4 612.3h0M343.9 738.1h0M309.7 610.6h0M163.5 575.3h0M339.6 728.7h0M303.5 665.5h0M285.9 654.2h0M213.0 581.9h0M219.7 572.0h0M297.8 650.1h0M309.8 615.6h0M214.5 579.8h0M178.1 576.4h0M307.4 657.5h0M294.2 663.8h0M215.6 581.7h0M297.8 696.1h0M338.4 742.8h0M244.1 575.3h0M311.9 775.5h0"/>
<path stroke="#008bfb" d="M315.7 780.3h0M204.9 570.9h0M212.0 570.8h0M307.7 649.1h0M171.5 575.3h0M219.8 581.8h0M309.5 620.6h0M166.0 575.3h0M301.6 696.1h0M194.0 575.3h0M237.5 575.3h0M346.6 739.7h0M301.8 697.4h0M292.8 659.2h0M242.6 573.4h0M229.6 573.6h0M225.2 564.9h0M317.0 658.5h0M228.1 575.3h0M219.9 576.9h0M346.7 738.1h0M222.8 581.7h0M345.4 732.2h0M219.6 583.5h0M302.9 609.4h0M303.3 654.2h0M304.8 655.8h0M214.4 567.8h0M311.4 652.9h0M221.1 571.9h0M225.2 570.1h0M245.6 575.3h0M308.9 654.4h0M321.5 825.8h0M312.5 696.1h0M223.9 573.7h0M342.5 739.9h0M304.4 696.1h0M304.4 699.5h0M315.8 778.6h0M291.5 658.7h0M239.9 577.2h0M250.7 572.8h0M342.8 748.2h0M288.4 653.2h0M221.2 565.1h0M216.1 570.5h0M350.8 735.4h0M222.7 584.9h0M299.8 777.0h0M172.6 573.9h0M306.1 647.7h0M288.3 654.5h0M320.2 815.6h0M211.5 576.8h0M284.3 660.4h0M157.6 574.8h0M303.4 642.9h0M296.5 657.4h0M343.7 745.7h0M225.4 561.4h0M228.2 584.5h0M213.2 580.2h0M311.0 613.9h0M320.1 822.4h0M283.1 657.2h0M348.2 734.9h0M318.2 657.0h0M349.0 736.6h0M305.1 657.4h0M303.4 650.9h0M301.0 648.1h0M296.9 646.2h0M315.9 781.9h0M350.7 737.8h0M291.4 777.0h0M244.1 577.2h0M211.9 572.3h0M306.0 668.7h0M366.5 620.6h0M215.6 615.6h0M303.4 668.7h0M199.7 574.1h0M312.5 627.2h0M201.1 576.7h0M353.0 736.6h0M305.7 614.3h0M303.2 697.6h0M310.4 660.4h0M198.3 577.3h0M203.9 579.0h0M343.9 739.6h0M232.0 573.9h0M305.0 662.3h0M274.3 615.6h0M315.9 775.4h0M249.4 576.5h0M209.2 582.3h0M209.3 575.3h0M176.6 577.8h0M321.8 813.9h0M286.8 615.6h0M311.4 660.1h0M210.4 573.7h0M237.8 573.4h0M283.4 658.5h0M222.4 586.5h0M206.3 570.1h0M181.0 575.3h0M183.6 575.3h0M229.4 570.3h0M343.6 744.2h0M197.2 576.9h0M310.2 696.1h0M300.8 654.3h0M287.2 655.8h0M222.9 578.5h0M303.7 667.1h0M226.6 569.2h0M157.6 575.8h0M296.4 696.1h0M226.5 570.7h0M253.8 572.3h0M315.9 652.7h0M227.0 572.2h0M233.5 573.7h0M292.5 649.1h0M312.8 657.1h0M340.0 736.6h0M223.9 583.4h0M217.2 568.5h0M307.6 652.4h0M323.1 814.2h0M308.9 661.3h0M311.8 654.4h0M221.3 570.2h0M296.8 647.8h0M226.3 615.6h0M234.4 777.0h0M292.5 657.5h0M310.2 651.2h0M203.5 575.3h0M226.6 567.7h0M288.6 658.4h0M344.0 736.6h0M170.9 615.6h0M323.0 812.7h0M298.1 663.0h0M304.7 650.9h0M289.9 654.1h0M232.0 572.6h0M346.6 732.0h0M248.3 577.6h0M362.6 615.6h0M317.1 654.5h0M291.1 652.9h0M202.6 578.6h0M305.8 692.8h0M182.3 575.3h0M341.1 738.3h0M294.0 659.0h0M222.4 583.3h0M310.0 617.3h0M238.9 573.4h0M228.3 572.2h0M284.3 655.8h0M207.8 581.4h0M211.9 581.2h0M298.2 648.6h0M302.4 662.7h0M154.0 575.3h0M222.9 570.5h0M313.0 781.6h0M314.3 654.0h0M221.3 587.2h0M306.2 641.2h0M349.4 737.8h0M184.6 575.3h0"/>
<path stroke="#008bfb" d="M229.8 615.6h0M304.2 620.0h0M299.1 610.6h0M295.6 657.4h0M309.9 625.7h0M306.2 646.1h0M318.7 817.3h0M222.6 564.1h0M214.3 575.3h0M222.9 576.9h0M306.5 662.3h0M342.2 734.9h0M211.9 582.7h0M214.6 582.8h0M316.9 653.1h0M215.8 565.7h0M296.8 665.4h0M222.5 575.3h0M308.8 650.3h0M255.3 576.9h0M291.2 657.3h0M306.4 777.0h0M179.4 575.3h0M217.4 566.8h0M309.5 613.9h0M296.9 652.6h0M299.6 652.9h0M227.9 578.4h0M344.1 732.1h0M248.5 615.6h0M306.0 657.4h0M155.0 575.3h0M345.2 733.7h0M227.9 579.9h0M172.8 576.7h0M216.0 580.1h0M342.5 730.0h0M303.4 644.5h0M191.5 575.3h0M345.2 735.1h0M209.4 577.0h0M316.2 817.3h0M340.1 730.2h0M160.3 575.3h0M218.4 584.7h0M287.8 777.0h0M206.2 575.3h0M314.5 778.8h0M302.3 659.2h0M226.9 582.9h0M295.3 649.4h0M260.7 615.6h0M311.1 620.6h0M309.8 624.0h0M209.2 568.3h0M295.3 655.8h0M170.0 574.2h0M313.2 778.5h0M313.1 780.1h0M252.1 573.9h0M300.6 655.8h0M295.3 652.6h0M183.5 574.0h0M171.6 577.8h0M293.9 657.4h0M344.0 727.5h0M349.0 857.7h0M232.0 575.3h0M304.7 670.4h0M310.8 777.0h0M301.1 651.2h0M299.3 658.7h0M184.8 574.0h0M180.5 577.0h0M314.3 655.8h0M230.8 580.5h0M302.0 667.9h0M307.6 662.5h0M227.8 583.0h0M220.1 570.4h0M164.3 576.3h0M190.1 576.6h0M304.0 614.1h0M344.9 739.5h0M183.5 576.6h0M229.1 578.6h0M225.2 580.5h0M266.4 615.6h0M229.6 575.3h0M312.5 690.1h0M310.3 657.3h0M223.9 585.0h0M176.5 572.8h0M224.1 570.4h0M230.5 575.3h0M223.7 576.9h0M244.4 573.4h0M302.2 643.7h0M206.3 571.8h0M220.1 580.2h0M216.0 568.9h0M346.3 741.2h0M224.0 572.1h0M177.0 576.5h0M299.2 694.9h0M164.8 575.3h0M313.0 654.5h0M215.9 575.3h0M199.5 615.6h0M215.7 583.3h0M213.1 576.9h0M222.4 562.5h0M296.1 696.6h0M161.9 574.5h0M195.4 574.0h0M315.1 817.6h0M217.1 583.8h0M221.0 588.9h0M166.2 574.2h0M342.3 746.6h0M230.7 570.1h0M217.3 575.3h0M209.2 578.8h0M293.8 651.0h0M316.1 816.0h0M249.6 577.7h0M189.1 576.6h0M209.0 573.6h0M170.0 573.1h0M212.9 570.4h0M220.1 568.8h0M343.8 726.0h0M225.6 584.0h0M290.0 777.0h0M309.1 657.2h0M339.7 738.2h0M343.7 730.5h0M210.5 570.5h0M229.7 572.0h0M171.6 576.6h0M221.6 577.0h0M223.8 575.3h0M303.7 641.2h0M158.9 574.7h0M232.1 579.4h0M222.8 615.6h0M222.6 568.9h0M284.6 652.7h0M163.4 574.4h0M350.4 736.6h0M210.3 583.2h0M213.3 567.1h0M301.9 664.4h0M162.1 576.1h0M296.8 659.0h0M295.1 647.8h0M317.8 817.3h0M220.0 578.6h0M292.4 660.8h0M210.5 567.4h0M222.8 573.7h0M218.8 570.6h0M233.6 576.9h0M291.3 655.8h0M302.3 650.6h0M207.5 572.3h0"/>
<path stroke="#0084f9" d="M249.8 572.9h0M337.0 733.6h0M156.3 574.9h0M194.4 576.6h0M206.4 577.0h0M221.2 585.5h0M297.9 657.2h0M314.0 702.1h0M223.8 567.2h0M222.8 567.3h0M224.3 568.8h0M214.5 569.3h0M311.1 696.1h0M302.1 652.4h0M340.9 728.3h0M299.3 655.8h0M214.5 578.3h0M301.6 693.5h0M300.0 630.6h0M259.1 577.8h0M221.0 566.8h0M313.2 651.8h0M172.9 578.1h0M314.6 771.7h0M285.7 651.1h0M191.8 574.0h0M287.2 652.2h0M168.6 575.3h0M245.6 576.3h0M312.0 778.5h0M304.5 612.7h0M316.5 608.1h0M204.9 575.3h0M315.5 655.8h0M182.1 573.9h0M307.6 659.2h0M342.6 726.6h0M292.9 652.4h0M308.7 696.1h0M259.0 571.5h0M213.1 568.7h0M339.9 747.7h0M233.6 578.5h0M253.6 573.8h0M315.7 777.0h0M317.3 778.3h0M312.4 700.6h0M189.9 575.3h0M305.0 665.5h0M310.0 612.2h0M242.6 575.3h0M218.5 572.2h0M167.0 573.8h0M215.6 573.7h0M298.3 658.7h0M202.3 573.7h0M226.8 581.4h0M305.7 699.5h0M228.3 581.4h0M228.2 569.2h0M303.4 696.1h0M213.4 578.6h0M298.9 697.3h0M179.3 573.4h0M302.5 777.0h0M234.6 576.4h0M187.6 576.6h0M212.0 575.3h0M309.1 655.8h0M207.6 575.3h0M234.7 575.3h0M306.8 620.2h0M234.9 574.2h0M205.0 572.3h0M219.8 563.9h0M226.6 576.8h0M308.7 618.7h0M198.5 573.3h0M299.2 661.6h0M361.1 613.7h0M255.1 578.5h0M313.7 613.9h0M307.5 655.8h0M234.8 573.0h0"/>
<path stroke="#007cf5" d="M266.1 575.3h0M298.9 603.9h0M322.6 658.0h0M218.5 583.1h0M248.1 574.2h0M265.9 579.8h0M341.1 739.9h0M307.0 697.5h0M311.8 658.7h0M314.8 780.5h0M317.8 814.7h0M264.7 575.3h0M407.4 619.9h0M300.5 618.9h0M390.0 615.6h0M316.2 615.6h0M312.6 602.4h0M315.5 657.3h0M347.8 738.3h0M255.0 572.1h0M309.9 607.2h0M323.1 818.8h0M370.4 617.1h0M304.7 663.9h0M319.9 655.8h0M261.9 579.4h0M338.3 741.3h0M303.6 660.7h0M261.5 573.9h0M301.7 615.6h0M315.2 691.4h0M263.4 575.3h0M296.6 695.6h0M369.6 613.2h0M321.3 656.8h0M319.9 656.8h0M305.8 694.4h0M338.4 728.8h0M325.9 897.0h0M329.8 865.9h0M303.7 670.4h0M256.6 571.9h0M326.4 660.8h0M338.7 745.9h0"/>
<path stroke="#0075f0" d="M265.7 578.3h0M410.5 618.0h0M323.6 655.8h0M374.8 616.0h0M372.2 616.3h0M268.8 576.9h0M338.3 727.3h0M315.6 694.5h0M312.8 691.6h0M339.8 727.1h0M349.3 735.4h0M343.6 747.2h0M307.5 694.7h0M269.6 575.3h0M307.0 693.3h0M307.4 696.1h0M365.6 615.6h0M263.1 571.1h0M407.7 618.5h0M399.2 614.3h0M398.2 617.2h0M300.2 600.6h0M402.4 618.7h0M312.8 693.1h0M338.4 733.5h0M266.9 575.3h0M268.3 573.7h0M320.1 820.7h0M399.3 615.6h0"/>
<path stroke="#246cea" d="M315.4 699.3h0M276.6 577.8h0M269.6 580.1h0M326.6 645.8h0M396.9 616.3h0M406.3 615.6h0M283.5 577.7h0M276.9 571.6h0M281.9 574.0h0M334.4 736.6h0M338.7 736.6h0M395.6 615.6h0M318.9 815.7h0M330.4 901.3h0M323.8 654.2h0M321.3 657.8h0M318.2 693.2h0M339.6 610.4h0M325.2 660.9h0M415.9 616.0h0M337.0 732.0h0M320.9 653.8h0M374.7 615.6h0M316.6 691.2h0M297.9 696.9h0M327.9 645.8h0M316.7 699.4h0M325.4 655.8h0M401.1 619.4h0M334.6 743.4h0M325.1 666.0h0M405.9 610.8h0M412.7 615.6h0M302.7 621.8h0M328.1 647.5h0"/>
<path stroke="#4b63e3" d="M297.1 575.6h0M319.6 706.0h0M327.9 654.1h0M404.6 619.2h0M338.6 735.0h0M298.5 777.0h0M280.8 575.3h0M406.1 620.4h0M325.1 664.3h0M318.0 694.6h0M334.2 612.3h0M313.8 699.1h0M363.7 617.3h0M321.3 770.4h0M335.7 740.1h0M412.8 614.5h0M271.1 575.3h0M336.9 744.2h0M334.2 740.0h0M283.4 572.9h0M273.7 578.1h0M271.5 578.5h0M319.3 575.3h0M424.9 615.6h0M320.0 653.8h0M279.2 578.6h0M287.5 576.8h0"/>
<path stroke="#635adb" d="M333.0 739.9h0M323.5 575.3h0M322.4 694.5h0M335.5 860.1h0M272.9 579.7h0M279.5 576.9h0M331.9 743.2h0M333.1 731.7h0M336.8 614.1h0M320.0 777.0h0M330.9 660.2h0M332.9 738.2h0M334.5 741.7h0M282.0 572.6h0M326.4 575.3h0M408.8 613.9h0M327.6 703.8h0M275.5 574.0h0M404.6 617.4h0M333.0 746.4h0M320.2 781.1h0M281.8 578.0h0"/>
<path stroke="#754fd1" d="M345.1 614.1h0M335.9 657.1h0M341.1 617.4h0M323.3 683.3h0M299.9 575.3h0M290.2 575.3h0M286.1 575.3h0M323.3 708.9h0M324.9 694.5h0M346.0 575.3h0M322.0 699.2h0M331.8 728.4h0M338.1 611.2h0M322.9 770.4h0M322.5 688.2h0M333.3 744.7h0M330.3 735.0h0M341.3 652.7h0M318.0 697.6h0M339.5 575.3h0M303.7 575.3h0M324.6 615.6h0M320.6 697.7h0M330.4 655.8h0M320.7 691.2h0M320.8 704.3h0M286.1 577.1h0M295.3 575.3h0M327.6 612.2h0M325.9 854.8h0M327.2 898.1h0M318.1 614.0h0M366.9 615.6h0M333.3 658.4h0M322.0 683.5h0M332.2 658.5h0M321.1 773.7h0"/>
<path stroke="#8443c6" d="M330.4 688.5h0M331.9 739.9h0M324.1 782.0h0M305.8 616.9h0M331.1 850.9h0M328.9 688.8h0M354.2 817.3h0M322.9 791.8h0M319.2 692.8h0M301.0 575.3h0M330.0 899.7h0M323.9 780.4h0M325.0 704.2h0M326.7 782.2h0M321.4 772.0h0M340.0 662.1h0M322.9 788.5h0M319.4 702.7h0M332.3 655.8h0M323.2 607.2h0M321.7 610.6h0M336.1 652.0h0M326.7 775.3h0M292.9 574.5h0M289.3 817.3h0M333.1 743.1h0M336.7 615.6h0M304.6 857.7h0M323.2 624.0h0M322.7 775.4h0"/>
<path stroke="#9135ba" d="M324.7 859.9h0M319.0 620.3h0M355.5 575.3h0M329.1 728.6h0M352.9 575.3h0M330.1 857.7h0M322.2 689.8h0M325.3 780.3h0M341.8 645.0h0M335.6 618.4h0M327.6 733.4h0M358.3 616.8h0M334.9 811.2h0M323.7 700.9h0M324.7 624.0h0M327.9 691.5h0M331.7 691.0h0M331.5 736.6h0M325.7 778.6h0M330.1 744.5h0M320.6 623.7h0M330.2 862.6h0M330.9 769.6h0M341.3 657.3h0M327.9 700.7h0M325.2 770.4h0M338.8 657.3h0M325.2 785.2h0M324.4 773.6h0M326.6 777.0h0M320.8 609.1h0M337.1 702.9h0M330.8 784.4h0M337.3 651.8h0M335.6 691.1h0M333.8 778.7h0M343.0 645.0h0M345.1 575.3h0M340.1 655.8h0M300.4 857.7h0M323.0 610.6h0M330.1 616.7h0M368.8 575.3h0"/>
<path stroke="#9b24ad" d="M344.2 643.7h0M330.1 687.0h0M350.8 657.6h0M406.2 570.9h0M341.8 646.5h0M328.8 901.1h0M326.2 624.9h0M334.3 708.5h0M345.8 651.1h0M326.3 697.7h0M409.0 581.0h0M341.9 819.5h0M343.0 657.3h0M332.1 772.1h0M334.1 620.5h0M425.2 578.9h0M327.9 735.0h0M330.4 694.6h0M413.0 578.2h0M323.0 619.0h0M332.7 854.3h0M334.3 862.1h0M316.5 857.7h0M404.8 573.5h0M335.2 763.4h0M324.7 686.3h0M329.1 738.2h0M327.6 739.8h0M323.5 688.1h0M332.0 777.0h0M330.5 685.5h0M340.1 649.5h0M338.2 620.0h0M341.3 662.0h0M333.4 783.7h0M331.4 864.5h0M328.9 617.4h0M337.6 653.1h0M327.7 746.1h0M319.5 614.0h0M341.6 660.4h0M332.9 699.2h0M329.7 812.4h0M425.1 573.5h0M336.5 859.0h0M330.3 693.1h0M403.5 572.3h0M344.2 664.4h0M347.1 657.4h0M331.8 685.8h0M298.8 857.7h0M327.7 728.7h0"/>
<path stroke="#ac16a7" d="M333.2 682.2h0M327.5 744.5h0M329.2 771.1h0M359.6 615.6h0M337.1 694.4h0M413.1 582.5h0M342.9 666.6h0M338.5 697.6h0M344.3 655.8h0M326.8 780.5h0M329.0 727.0h0M417.1 570.7h0M340.7 615.6h0M419.7 578.6h0M331.0 768.1h0M326.2 730.3h0M413.2 572.4h0M331.5 706.4h0M438.9 574.2h0M303.0 857.7h0M435.0 577.9h0M390.1 575.3h0M335.9 682.7h0M335.9 687.7h0M329.3 743.0h0M333.0 691.5h0M333.1 694.6h0M336.2 820.6h0M418.5 580.8h0M403.5 573.8h0M430.5 572.3h0M406.1 573.8h0M333.8 853.3h0M320.7 618.8h0M422.7 571.2h0M415.6 571.9h0M407.9 580.3h0M406.1 575.3h0M346.6 615.6h0M333.8 788.7h0M332.9 615.6h0M411.4 572.4h0M339.8 613.9h0M325.9 610.9h0M392.7 575.3h0M332.1 788.5h0M351.6 615.6h0M419.8 573.7h0M422.7 579.4h0M327.7 694.6h0M333.6 787.0h0M427.9 575.3h0M342.7 651.2h0M351.2 661.1h0M404.9 577.1h0M433.7 575.3h0M411.5 576.7h0M443.0 577.3h0M413.1 575.3h0M327.5 741.3h0M319.3 623.5h0M413.3 573.9h0M355.8 614.5h0M330.4 690.0h0"/>
<path stroke="#bb00a0" d="M334.8 777.0h0M400.7 573.7h0M326.2 725.5h0M339.6 615.6h0M430.7 573.8h0M333.0 686.8h0M350.7 655.8h0M337.9 784.7h0M320.6 612.4h0M352.4 657.4h0M426.7 573.6h0M428.2 572.1h0M410.5 576.9h0M352.2 654.2h0M414.5 568.1h0M342.8 702.9h0M337.0 699.5h0M335.9 706.2h0M335.8 692.7h0M349.8 658.6h0M417.3 572.2h0M402.5 574.2h0M333.4 777.0h0M329.0 690.2h0M330.2 847.9h0M345.9 652.7h0M324.2 775.3h0M322.1 622.3h0M323.3 605.5h0M430.8 578.3h0M327.5 731.9h0M452.4 575.3h0M399.3 575.3h0M325.3 736.6h0M331.0 861.1h0M337.8 816.0h0M342.3 615.6h0M429.5 575.3h0M327.1 622.3h0M335.2 820.4h0M334.3 683.7h0M328.5 850.8h0M342.5 616.9h0M336.0 699.5h0M438.8 575.3h0M442.7 573.3h0M337.1 706.3h0M337.6 778.5h0M383.5 575.3h0M431.9 573.9h0M421.1 572.4h0M444.5 573.4h0M338.3 618.5h0M427.7 578.5h0M331.9 696.1h0M334.3 702.3h0M334.1 689.9h0M426.3 575.3h0M348.4 657.3h0M345.4 658.9h0M425.4 571.7h0M406.2 576.8h0M423.9 574.0h0M328.1 778.6h0"/>
<path stroke="#c90098" d="M438.9 576.4h0M410.4 572.1h0M407.4 570.3h0M341.7 817.3h0M456.6 575.3h0M444.3 577.2h0M329.8 769.7h0M422.7 578.0h0M426.6 578.7h0M329.8 852.8h0M326.2 731.9h0M344.5 654.1h0M334.1 703.8h0M418.3 571.2h0M339.7 689.1h0M325.0 728.1h0M341.2 697.8h0M327.5 730.3h0M323.0 612.2h0M332.9 618.3h0M326.1 857.7h0M448.5 576.9h0M343.3 857.7h0M343.9 613.7h0M338.2 688.6h0M336.2 781.6h0M353.6 653.1h0M331.9 709.8h0M335.6 697.8h0M333.5 785.4h0M327.2 852.8h0M323.9 727.2h0M440.0 577.5h0"/>
<path stroke="#d5008f" d="M315.1 624.0h0M340.9 692.7h0M455.1 574.2h0M352.3 651.1h0M325.3 740.0h0M318.1 609.3h0M324.8 731.5h0M340.7 817.3h0M330.2 615.6h0M355.7 616.8h0M315.4 608.9h0M315.0 857.7h0M331.1 866.3h0M359.9 614.4h0M336.0 775.5h0M338.5 687.2h0M357.3 616.8h0M454.9 575.3h0M456.3 574.3h0M341.0 687.5h0M336.3 773.9h0M332.5 781.9h0M355.7 615.6h0M343.0 818.7h0M342.2 857.7h0M320.7 740.1h0M340.2 773.9h0M342.6 694.4h0M319.5 739.6h0M342.8 689.3h0M335.0 785.5h0M331.9 689.3h0M329.9 859.3h0M353.7 657.2h0M456.5 576.3h0"/>
<path stroke="#e00086" d="M353.7 658.5h0M322.5 739.7h0M338.7 693.1h0M316.7 623.1h0M322.0 735.0h0M330.2 869.2h0M335.0 790.6h0M322.3 738.2h0M353.7 651.7h0M324.7 741.7h0M341.5 780.4h0M324.4 858.8h0M332.7 861.1h0M323.2 615.6h0M312.3 605.7h0M337.7 787.8h0M322.0 733.5h0M338.9 778.7h0M319.1 618.7h0M460.2 574.6h0M459.3 576.1h0M330.1 907.7h0M336.2 817.3h0M322.2 742.8h0M341.0 685.8h0M331.3 856.0h0M342.6 706.4h0"/>
<path stroke="#e9007c" d="M463.0 575.3h0M305.9 613.0h0M308.6 610.9h0M339.1 790.7h0M335.8 619.9h0M338.7 775.3h0M331.1 862.8h0M346.9 699.4h0M341.7 770.2h0M462.1 574.8h0M322.1 857.7h0M334.9 655.8h0"/>
<path stroke="#f20072" d="M315.4 738.3h0M341.7 818.4h0M315.1 610.6h0M321.2 736.6h0M314.1 602.4h0M340.4 786.2h0M314.0 607.3h0M345.2 696.1h0M345.5 703.7h0M341.5 783.8h0M319.5 741.1h0M346.8 702.7h0"/>
<path stroke="#f90067" d="M464.6 575.3h0M344.7 772.9h0M318.1 734.1h0M306.9 617.1h0M352.4 692.7h0M308.6 615.6h0M333.8 812.9h0M368.7 655.8h0M327.5 864.2h0M360.3 695.6h0M334.5 652.1h0M340.3 787.8h0M550.1 577.5h0M329.9 856.1h0"/>
<path stroke="#fe005c" d="M513.2 582.5h0M489.0 576.1h0M493.0 575.3h0M375.3 655.8h0M375.4 654.7h0M331.3 868.0h0M470.1 575.3h0M375.5 656.9h0M329.8 831.9h0M331.3 893.3h0M510.5 571.9h0M516.3 567.5h0M514.6 580.0h0M518.9 579.5h0M310.2 735.0h0M537.8 575.3h0M533.4 576.9h0M317.2 734.0h0M328.8 868.1h0M544.4 575.3h0M494.5 574.1h0M499.9 573.5h0M552.5 573.3h0M383.3 655.8h0M384.9 656.4h0M540.5 575.3h0M475.1 575.3h0M331.6 899.7h0M317.2 736.6h0M512.2 576.7h0M564.5 575.3h0M503.9 572.6h0M518.6 569.8h0M547.2 573.1h0M506.7 578.8h0M525.7 575.3h0M548.4 574.2h0M518.8 575.3h0M359.2 652.4h0M304.4 621.5h0M375.4 658.1h0M329.4 818.9h0M371.2 653.8h0M308.7 857.7h0M361.9 650.7h0M301.8 618.9h0M309.0 735.2h0M554.1 577.1h0M303.6 735.2h0M497.2 575.3h0M344.4 779.8h0M328.6 811.5h0M480.9 575.0h0M312.5 857.7h0"/>
<path stroke="#ff0051" d="M508.9 572.3h0M292.3 616.0h0M502.7 576.5h0M344.4 771.5h0M331.1 802.7h0M364.5 645.5h0M501.0 573.3h0M354.6 697.2h0M303.7 736.6h0M498.7 575.3h0M314.0 620.6h0M514.5 572.2h0M364.5 648.9h0M345.5 777.0h0M535.2 576.9h0M418.3 576.7h0M536.3 576.9h0M518.9 571.1h0M370.1 655.8h0M368.5 653.0h0M503.9 576.6h0M366.0 649.8h0M374.0 653.7h0M331.0 827.0h0M325.5 819.1h0M506.5 575.3h0M526.8 573.1h0M377.0 654.6h0M503.6 574.0h0M328.3 821.6h0M298.9 628.9h0M315.5 736.6h0M360.5 657.5h0M311.8 734.8h0M343.1 769.2h0M492.9 574.2h0M290.7 615.6h0M512.1 579.6h0M350.5 697.5h0M518.8 578.1h0M520.1 575.3h0M332.4 815.8h0M510.9 578.7h0M312.9 739.3h0M302.9 614.1h0M342.0 898.1h0M566.1 575.0h0M301.7 603.9h0M348.7 777.0h0M347.1 817.3h0M354.9 696.1h0M301.6 617.3h0M307.6 737.8h0M532.4 573.7h0M300.8 735.8h0M513.3 573.9h0M298.8 625.6h0M382.3 654.3h0M363.1 657.5h0M300.6 737.4h0M556.7 576.8h0M518.9 576.7h0M374.3 655.8h0M512.2 573.9h0M365.8 651.3h0M333.6 815.8h0M329.9 828.6h0M347.1 778.0h0M367.5 655.8h0M524.0 576.7h0M371.3 657.8h0M331.0 830.2h0M348.2 691.8h0M363.4 660.9h0M335.3 858.9h0M361.9 667.8h0M534.8 575.3h0M484.9 575.3h0M319.2 898.1h0M364.3 654.1h0M372.7 654.8h0M299.6 736.6h0M332.9 896.7h0M356.3 697.9h0M513.5 572.4h0M350.9 696.1h0M335.8 896.9h0M370.2 653.8h0M333.6 823.2h0M506.4 571.8h0M299.2 622.3h0M331.1 817.3h0M360.3 645.8h0M545.8 577.4h0M550.2 575.3h0M326.8 817.3h0M360.4 667.4h0M300.0 620.6h0M514.5 573.7h0M367.2 653.3h0M516.2 569.0h0M349.3 694.5h0M308.7 733.8h0M521.6 577.9h0M341.5 777.0h0M349.5 697.7h0M545.6 574.3h0M301.5 610.6h0M547.4 577.5h0M544.5 577.3h0M385.2 655.2h0M556.9 573.8h0M303.4 738.0h0M363.4 647.2h0M514.9 569.0h0M483.3 575.3h0M563.2 575.3h0M314.1 732.6h0M292.1 615.2h0M329.9 822.2h0M379.6 655.8h0M363.2 659.2h0M516.0 581.6h0M360.4 696.1h0M363.5 643.8h0M344.3 816.7h0M568.7 575.3h0M563.3 574.6h0M327.1 818.9h0M300.2 613.9h0M293.5 615.6h0M421.2 579.6h0M498.2 573.7h0M513.1 579.6h0M536.6 575.3h0M332.8 900.9h0M506.6 577.1h0"/>
<path stroke="#ff0051" d="M376.8 657.0h0M529.5 577.1h0M528.0 577.3h0M298.1 736.6h0M292.3 615.6h0M348.7 778.2h0M520.0 579.9h0M367.2 658.3h0M348.1 690.4h0M516.2 583.1h0M301.7 620.6h0M521.1 575.3h0M330.0 820.5h0M314.1 735.2h0M476.9 575.3h0M505.2 578.4h0M333.7 821.7h0M307.2 857.7h0M517.1 577.0h0M359.4 649.0h0M486.5 576.0h0M332.3 820.4h0M360.4 647.5h0M310.1 733.4h0M349.5 701.0h0M499.5 575.3h0M364.8 657.5h0M502.5 574.1h0M364.6 666.1h0M315.7 740.0h0M555.3 573.6h0M492.8 576.4h0M364.4 662.7h0M511.8 569.5h0M331.5 902.9h0M359.0 657.5h0M487.6 574.6h0M326.8 815.7h0M548.5 575.3h0M561.0 574.2h0M344.3 777.0h0M515.9 572.2h0M300.0 603.9h0M487.4 576.0h0M545.7 576.3h0M541.9 575.3h0M516.0 580.0h0M330.8 804.4h0M303.0 624.9h0M353.5 696.1h0M350.6 700.3h0M363.3 650.7h0M332.8 902.3h0M331.8 898.1h0M296.1 614.0h0M513.0 571.0h0M548.5 577.5h0M360.3 662.4h0M509.5 579.8h0M302.8 620.2h0M311.4 736.6h0M537.8 576.9h0M539.2 575.3h0M358.8 697.0h0M364.6 647.2h0M512.2 572.4h0M530.9 573.6h0M513.1 569.5h0M509.0 573.8h0M330.8 820.5h0M334.4 899.1h0M557.8 576.7h0M368.6 657.2h0M537.5 573.7h0M328.5 820.2h0M300.8 736.6h0M555.1 575.3h0M560.8 575.3h0M361.8 666.1h0M331.1 807.6h0M548.4 573.1h0M299.2 737.2h0M345.7 778.7h0M313.1 732.6h0M365.8 657.3h0M564.9 574.8h0M524.1 573.9h0M378.4 658.3h0M311.0 857.7h0M508.1 575.3h0M357.7 697.3h0M349.5 691.2h0M348.2 775.8h0M334.4 896.0h0M305.7 857.7h0M367.2 657.1h0M532.5 575.3h0M539.0 576.9h0M299.0 600.6h0M373.8 654.7h0M536.3 573.7h0M329.8 823.8h0M300.4 612.3h0M324.4 857.7h0M361.7 657.5h0M332.6 814.2h0M293.7 616.3h0M302.9 612.5h0M300.1 615.6h0M307.6 736.6h0M362.0 652.4h0M314.1 738.0h0M349.3 898.1h0M333.2 893.9h0M484.6 575.9h0M471.2 575.3h0M333.7 824.7h0M325.4 813.7h0M505.5 575.3h0M517.4 581.9h0M328.3 818.7h0M514.7 581.6h0M373.0 655.8h0M343.2 773.9h0M328.2 814.4h0M508.1 572.6h0M330.0 806.0h0M344.5 817.9h0M541.8 573.5h0M380.8 657.7h0M362.0 664.4h0"/>
<path stroke="#fe005c" d="M366.2 661.8h0M348.1 700.4h0M380.8 655.8h0M299.2 615.6h0M331.8 901.3h0M318.2 735.3h0M338.0 612.7h0M342.7 770.8h0M525.8 576.6h0M333.3 895.3h0M540.3 573.6h0M523.9 578.2h0M523.0 576.9h0M314.4 740.6h0M517.1 572.0h0M556.9 575.3h0M328.6 824.5h0M342.8 777.0h0M524.2 572.4h0M341.7 771.9h0M328.1 810.1h0M378.1 654.5h0M453.7 576.5h0M557.8 575.3h0M510.7 570.2h0M340.1 766.2h0M306.1 736.6h0M477.9 575.3h0M301.9 735.5h0M310.2 736.6h0M525.2 577.8h0M316.4 612.6h0M336.0 899.3h0M520.4 570.7h0M530.9 575.3h0M299.2 736.0h0M302.9 611.0h0M500.8 577.3h0M325.7 815.5h0M345.1 690.1h0M516.2 578.4h0M312.4 628.8h0M345.2 702.1h0M376.7 653.4h0M315.3 612.2h0M368.8 654.4h0M505.4 576.8h0M307.7 735.4h0M330.0 854.4h0M330.5 912.5h0M333.9 814.4h0M483.7 575.8h0M547.0 574.2h0M552.5 577.3h0M495.7 576.6h0"/>
<path stroke="#f90067" d="M340.1 780.1h0M328.5 815.9h0M372.6 657.8h0M551.4 573.2h0M311.2 604.0h0M345.4 694.6h0M315.2 615.6h0M312.7 740.6h0M520.4 576.8h0M465.7 575.3h0M363.0 669.5h0M317.2 739.2h0M323.3 858.8h0M340.0 764.7h0M410.5 575.3h0M353.4 693.3h0M348.1 696.1h0M308.6 621.9h0M360.2 655.8h0M333.5 811.4h0M519.9 573.8h0M328.6 857.7h0M312.9 736.6h0M318.0 737.9h0M311.3 609.0h0M340.4 784.7h0M378.0 653.3h0M349.2 616.9h0"/>
<path stroke="#f20072" d="M341.5 775.3h0M341.5 787.2h0M307.2 734.2h0M342.8 780.1h0M330.4 890.1h0M344.2 697.8h0M353.2 694.7h0M353.3 615.6h0M310.9 625.5h0M311.7 733.0h0M353.2 614.5h0M335.3 615.6h0M338.7 768.4h0M346.7 694.5h0"/>
<path stroke="#e9007c" d="M309.5 605.5h0M344.2 694.4h0M340.1 775.5h0M327.1 862.6h0M342.9 783.2h0M323.5 741.3h0M342.5 696.1h0M344.0 690.9h0M353.6 655.8h0M340.3 772.4h0M323.7 725.7h0M317.7 857.7h0M335.2 814.2h0M322.3 736.6h0M323.7 749.1h0M338.4 702.1h0"/>
<path stroke="#e00086" d="M341.0 619.3h0M331.5 857.7h0M350.5 615.6h0M308.4 614.0h0M333.6 772.0h0M356.4 652.6h0M339.3 777.0h0M356.9 615.6h0M341.1 706.4h0M341.1 691.0h0M323.6 731.9h0M340.4 769.3h0M336.4 822.2h0M323.4 730.4h0M338.3 617.1h0M342.5 704.7h0M331.9 651.8h0M460.7 575.3h0M323.7 744.4h0"/>
<path stroke="#d5008f" d="M324.6 613.9h0M332.9 612.9h0M329.9 844.6h0M334.5 706.9h0M342.4 692.7h0M338.1 858.1h0M340.5 778.5h0M337.6 770.8h0M321.2 727.8h0M331.5 617.7h0M459.2 575.3h0M324.0 746.0h0M340.7 814.5h0M336.4 818.9h0M342.1 613.1h0M336.0 764.6h0"/>
<path stroke="#c90098" d="M339.9 699.6h0M333.3 697.6h0M407.7 571.9h0M438.7 573.0h0M337.4 790.9h0M340.1 697.8h0M338.2 615.6h0M335.5 614.2h0M339.0 763.3h0M355.0 659.4h0M342.6 697.8h0M352.6 658.9h0M414.5 576.7h0M337.8 772.4h0M336.9 609.7h0M450.8 576.7h0M454.0 575.3h0M417.4 575.3h0M341.4 689.3h0M339.0 771.9h0M318.9 609.3h0M334.0 618.9h0M349.6 661.5h0M433.4 573.9h0M323.9 747.5h0M342.5 691.0h0M444.5 575.3h0M341.7 666.6h0M337.0 611.2h0M332.1 780.3h0M339.2 783.9h0M338.5 691.6h0M451.1 573.9h0M341.5 701.2h0M335.8 701.1h0M337.3 701.2h0M338.6 694.6h0M459.0 574.5h0M349.4 655.8h0M334.2 856.2h0M336.6 763.1h0M339.4 620.8h0M346.3 614.1h0M324.8 750.1h0M409.1 575.3h0"/>
<path stroke="#bb00a0" d="M411.8 569.6h0M419.9 576.9h0M416.9 576.8h0M391.1 575.3h0M418.4 575.3h0M455.3 576.4h0M335.5 857.7h0M432.3 576.7h0M326.5 771.8h0M429.2 578.4h0M341.6 654.3h0M336.9 687.6h0M326.4 750.8h0M333.6 790.4h0M334.8 778.7h0M351.7 616.8h0M434.9 575.3h0M337.8 813.3h0M348.5 660.3h0M425.0 577.1h0M334.6 780.4h0M441.8 576.3h0M326.4 741.3h0M326.6 736.6h0M333.4 767.0h0M349.6 653.0h0M346.7 654.2h0M424.1 577.9h0M336.4 783.2h0M412.8 571.0h0M336.1 689.4h0M350.8 650.5h0M318.1 618.8h0M422.7 575.3h0M436.2 575.3h0M327.8 747.7h0M326.6 722.4h0M327.0 861.0h0M320.5 620.5h0M334.7 788.9h0M348.1 661.7h0M329.8 864.3h0"/>
<path stroke="#ac16a7" d="M328.8 747.8h0M321.7 620.6h0M333.3 710.0h0M440.4 574.2h0M441.2 574.3h0M415.6 570.3h0M417.3 569.2h0M332.8 696.1h0M340.3 663.7h0M334.2 686.8h0M320.6 622.1h0M331.5 702.9h0M332.6 862.8h0M330.6 777.0h0M419.7 580.2h0M410.4 581.7h0M350.0 650.1h0M407.9 577.0h0M329.6 782.9h0M348.1 649.9h0M327.9 769.2h0M345.8 663.6h0M336.4 790.9h0M326.4 735.0h0M329.0 725.4h0M343.0 669.7h0M414.2 572.4h0M402.1 577.6h0M348.2 651.3h0M337.4 657.1h0M323.4 617.3h0M328.9 693.2h0M393.9 575.3h0M416.0 580.3h0M405.0 579.0h0M337.8 857.3h0M436.2 577.8h0M324.9 726.4h0M408.8 569.6h0M421.1 575.3h0M407.6 575.3h0M413.2 569.6h0M326.1 617.2h0M406.4 572.4h0M325.1 746.8h0M411.7 579.6h0M333.6 780.3h0M331.8 684.1h0M351.0 652.2h0M330.2 614.5h0M435.9 574.0h0M346.3 857.7h0M344.5 647.2h0M326.2 744.5h0M437.3 572.9h0M334.7 705.4h0M304.1 609.7h0M326.7 770.0h0M415.8 568.6h0M347.0 658.9h0M436.3 572.8h0M335.5 612.8h0M399.8 576.3h0M334.2 693.0h0M330.8 781.4h0M404.7 571.6h0M401.1 576.9h0M333.3 775.3h0M414.5 575.3h0M336.6 814.0h0M326.4 749.3h0M330.7 771.1h0"/>
<path stroke="#9b24ad" d="M340.2 659.0h0M362.2 575.3h0M328.2 772.3h0M322.1 619.0h0M327.9 738.2h0M328.8 735.0h0M319.4 612.5h0M328.9 699.0h0M334.4 617.2h0M326.2 702.4h0M326.8 778.7h0M342.8 665.1h0M342.9 648.1h0M329.1 700.5h0M430.5 575.3h0M339.0 651.3h0M381.8 575.3h0M326.8 785.7h0M304.4 611.2h0M327.9 780.1h0M343.1 662.0h0M398.1 576.0h0M329.1 703.4h0M333.1 700.7h0M327.5 610.6h0M414.2 578.2h0M342.7 643.4h0M336.9 689.3h0M338.1 614.1h0M365.0 575.3h0M326.3 739.8h0M328.9 736.6h0M345.7 657.4h0M327.4 689.9h0M386.1 575.3h0M330.4 894.9h0M326.0 694.5h0M317.7 621.9h0M327.9 727.1h0M336.1 789.4h0M340.3 651.0h0M326.4 746.1h0M322.0 696.1h0M340.5 820.1h0M370.2 575.3h0M341.3 663.5h0M341.2 655.8h0M414.6 579.6h0M321.7 605.5h0"/>
<path stroke="#9135ba" d="M341.6 658.9h0M330.2 613.4h0M334.4 700.7h0M338.8 652.8h0M325.4 768.8h0M331.5 704.6h0M330.4 742.9h0M332.7 614.2h0M327.9 688.4h0M318.1 612.4h0M323.3 689.7h0M325.7 623.4h0M317.6 615.6h0M343.4 617.5h0M340.3 665.3h0M337.6 659.8h0M323.8 705.7h0M334.3 691.5h0M332.0 699.5h0M326.1 689.8h0M335.1 855.3h0M326.2 609.4h0M319.2 607.7h0M345.4 655.8h0M330.3 730.3h0M344.3 666.2h0M321.4 810.5h0M341.3 669.7h0M321.6 808.8h0M322.0 705.5h0M325.7 781.9h0M323.8 707.3h0M338.2 575.3h0M339.9 646.3h0"/>
<path stroke="#8443c6" d="M336.3 659.6h0M380.3 615.6h0M323.1 856.6h0M327.8 750.8h0M331.4 615.6h0M334.7 746.7h0M323.7 692.9h0M345.0 615.6h0M322.0 707.1h0M325.9 612.5h0M329.8 872.5h0M327.0 851.2h0M327.4 575.3h0M331.8 746.5h0M325.2 786.8h0M323.5 684.9h0M333.3 657.1h0M329.8 851.1h0M335.0 812.7h0M323.3 704.1h0M324.5 622.3h0M343.2 575.3h0M321.7 625.7h0M297.2 817.3h0M325.9 614.0h0M322.5 773.7h0M304.2 817.3h0M334.8 654.0h0M325.7 615.6h0M320.9 696.1h0M338.0 609.7h0"/>
<path stroke="#754fd1" d="M321.0 687.9h0M293.2 777.0h0M322.2 682.0h0M295.6 575.8h0M321.1 692.8h0M328.4 866.4h0M322.6 778.6h0M332.9 733.3h0M302.2 575.3h0M322.3 693.0h0M321.6 775.3h0M322.9 781.9h0M331.8 730.0h0M326.4 696.1h0M324.0 768.6h0M330.7 739.8h0M334.2 614.0h0M309.6 817.3h0M320.5 706.0h0M287.4 573.8h0M290.4 576.4h0M372.3 614.9h0M324.4 765.2h0M330.6 747.7h0M329.1 704.9h0M330.9 654.3h0M334.3 575.3h0"/>
<path stroke="#635adb" d="M305.1 777.0h0M275.5 576.6h0M405.0 610.2h0M339.2 619.1h0M331.8 659.8h0M321.9 575.3h0M328.6 898.1h0M404.8 621.0h0M321.2 783.6h0M324.4 607.2h0M291.3 574.4h0M330.0 842.9h0M332.9 735.0h0M331.9 744.8h0M318.2 699.0h0M283.1 574.1h0M321.4 777.0h0M321.3 778.7h0M330.4 904.5h0M334.6 733.2h0M339.6 617.3h0M323.8 702.5h0M318.2 696.1h0M289.0 574.1h0M294.4 575.3h0"/>
<path stroke="#4b63e3" d="M325.5 652.4h0M316.6 689.5h0M315.3 696.1h0M329.1 649.0h0M278.0 573.5h0M329.1 650.7h0M336.0 733.1h0M327.8 662.5h0M320.7 694.5h0M316.5 692.8h0M322.8 783.6h0M318.1 704.9h0M268.7 575.3h0M329.9 870.8h0M327.3 854.4h0M323.0 613.9h0M301.5 630.6h0M318.3 687.3h0M319.8 774.3h0M275.4 579.3h0M319.3 696.1h0M400.9 611.8h0M279.3 575.3h0M315.6 704.0h0M271.3 570.5h0M391.4 615.6h0M280.7 576.8h0M319.2 689.5h0M280.4 572.3h0M369.6 615.6h0M367.9 620.4h0M334.7 728.2h0M285.8 573.5h0M406.3 612.4h0M278.3 577.1h0M276.4 576.5h0M376.3 616.0h0M330.0 898.1h0M274.0 573.9h0M330.0 891.7h0M331.8 741.5h0M362.4 617.0h0"/>
<path stroke="#246cea" d="M272.4 570.9h0M299.0 623.9h0M319.0 812.5h0M314.1 690.1h0M416.0 615.6h0M269.8 578.5h0M308.8 698.0h0M319.5 657.8h0M326.6 642.5h0M367.9 614.0h0M407.4 614.2h0M418.5 615.6h0M329.6 662.6h0M424.0 615.6h0M366.7 613.9h0M396.9 614.9h0M268.8 570.4h0M329.2 655.8h0M399.7 616.9h0M317.0 701.0h0M268.5 580.1h0M300.3 627.3h0M271.2 580.1h0M332.8 730.1h0M365.6 612.2h0M406.1 618.8h0M414.1 615.6h0M297.3 614.3h0M403.3 621.0h0M402.2 614.1h0M407.7 617.0h0M337.2 735.1h0M268.4 578.5h0M334.4 734.9h0M397.9 615.6h0M271.1 572.1h0M320.3 808.8h0"/>
<path stroke="#0075f0" d="M408.7 615.6h0M314.7 777.0h0M375.0 615.2h0M263.4 576.7h0M325.0 647.3h0M428.1 615.6h0M324.9 657.5h0M321.1 702.7h0M265.6 576.8h0M327.4 894.8h0M264.7 573.8h0M366.7 619.0h0M417.1 615.6h0M326.7 652.5h0M406.4 614.0h0M363.8 610.6h0M266.1 572.3h0M402.1 617.1h0M403.4 612.0h0M321.1 655.8h0M319.8 654.8h0M253.7 578.3h0M267.0 580.0h0M316.6 702.7h0M403.7 610.2h0M300.6 662.0h0M419.6 615.6h0M269.9 576.9h0M311.0 623.9h0M404.9 613.8h0M325.5 659.2h0M366.7 617.3h0M314.3 694.6h0M326.8 657.5h0M267.1 570.6h0M320.1 772.9h0M259.1 575.3h0M339.8 743.0h0M337.3 738.1h0M416.9 615.9h0M321.8 824.1h0M260.7 579.3h0"/>
<path stroke="#007cf5" d="M337.1 736.6h0M368.1 615.6h0M311.1 618.9h0M323.6 660.6h0M303.1 694.6h0M311.6 692.3h0M317.5 777.0h0M255.3 573.7h0M325.8 899.2h0M317.0 696.1h0M320.5 824.1h0M296.5 651.0h0M313.7 604.0h0M311.8 774.0h0M392.7 615.6h0M342.4 733.3h0M305.8 615.6h0M302.3 661.0h0M312.7 625.5h0M324.3 817.3h0M262.1 578.0h0M261.5 572.6h0M365.4 620.6h0M253.6 576.8h0M403.7 615.6h0M298.8 617.3h0M250.9 577.8h0M335.6 743.5h0M260.4 572.7h0M422.6 615.6h0M168.6 573.5h0M247.2 574.2h0M257.8 571.7h0M318.4 655.8h0M312.4 702.1h0M314.2 697.6h0M216.0 564.1h0M260.3 577.9h0M248.5 575.3h0M253.7 575.3h0M341.2 743.2h0M300.9 657.3h0M299.0 607.3h0"/>
<path stroke="#0084f9" d="M224.1 562.4h0M300.2 610.6h0M316.4 618.6h0M298.0 655.8h0M240.0 573.4h0M228.2 567.6h0M345.0 729.3h0M309.9 619.0h0M218.3 569.0h0M298.0 660.1h0M321.9 819.0h0M290.2 657.5h0M225.4 578.8h0M302.2 654.1h0M177.9 573.2h0M302.3 648.9h0M313.7 617.3h0M260.4 571.3h0M193.2 576.6h0M304.5 694.4h0M206.4 580.5h0M224.2 588.2h0M311.0 627.2h0M217.2 577.0h0M317.6 773.0h0M315.3 622.3h0M351.9 736.6h0M302.4 655.8h0M311.1 699.9h0M308.5 617.2h0M174.2 576.8h0M342.6 725.0h0M315.2 617.3h0M245.7 574.3h0M312.8 659.8h0M221.4 563.4h0M304.6 646.1h0M223.9 564.0h0M310.4 775.4h0M314.8 782.3h0M210.8 576.9h0M307.6 650.8h0M250.8 576.6h0M305.1 652.6h0M304.8 697.8h0M303.2 699.1h0M306.2 665.5h0M338.7 739.7h0M157.9 575.3h0M202.2 575.3h0M250.7 574.0h0M217.3 578.7h0M293.9 647.8h0M304.8 654.2h0M215.9 584.9h0M312.2 610.6h0M209.0 571.8h0M285.7 658.9h0M308.7 659.9h0M223.9 589.9h0M176.5 574.1h0M313.1 653.2h0M256.5 577.0h0M241.4 577.2h0M311.4 694.8h0M302.7 606.3h0M295.3 651.0h0M341.4 744.9h0M299.2 654.4h0M195.6 575.3h0M210.3 572.1h0M230.5 571.8h0M208.9 570.1h0"/>
<path stroke="#008bfb" d="M307.3 654.1h0M293.8 655.8h0M217.2 571.9h0M344.1 733.6h0M225.3 563.2h0M184.8 576.6h0M214.8 585.8h0M292.4 662.5h0M167.4 576.8h0M234.0 615.6h0M327.3 901.4h0M347.8 736.6h0M230.6 573.6h0M210.3 580.1h0M175.2 578.1h0M310.3 652.7h0M225.1 585.7h0M201.0 572.5h0M295.5 654.2h0M296.9 655.8h0M160.4 574.6h0M226.7 584.5h0M186.1 576.6h0M264.5 615.6h0M217.0 587.2h0M247.1 576.4h0M223.7 578.5h0M312.0 777.0h0M222.3 588.1h0M311.5 657.2h0M190.1 574.0h0M214.4 566.3h0M314.5 652.3h0M210.3 581.6h0M341.2 741.6h0M218.5 578.4h0M225.3 575.3h0M345.2 741.0h0M226.6 579.9h0M315.9 773.7h0M211.8 584.2h0M182.8 615.6h0M216.1 578.5h0M262.6 615.6h0M214.7 572.3h0M310.6 658.9h0M205.4 576.8h0M251.0 575.3h0M202.1 572.0h0M287.1 659.4h0M320.8 898.1h0M237.6 577.2h0M313.2 772.4h0M361.3 617.5h0M301.9 666.1h0M175.2 573.9h0M208.1 569.2h0M308.0 777.0h0M156.5 575.7h0M341.1 725.0h0M339.9 731.8h0M312.2 780.0h0M284.5 654.2h0M222.6 580.1h0M229.3 580.3h0M324.2 813.7h0M159.3 575.3h0M229.7 581.9h0M214.6 581.3h0M217.3 563.4h0M338.7 731.9h0M341.4 731.6h0M314.6 773.5h0M324.7 898.1h0M226.6 564.6h0M303.3 652.6h0M225.2 582.2h0M224.2 565.6h0M211.7 579.8h0M351.8 737.5h0M312.5 617.3h0M303.8 662.3h0M304.7 668.7h0M177.0 615.6h0M218.6 573.7h0M315.2 619.0h0M217.4 573.6h0M187.6 575.3h0M301.6 694.8h0M315.4 620.6h0M294.0 665.4h0M213.1 573.7h0M308.6 694.2h0M341.2 748.2h0M277.2 615.6h0M286.1 657.3h0M321.6 815.6h0M310.4 655.8h0M218.7 564.3h0M321.8 898.1h0M169.7 576.4h0M222.9 572.1h0M306.0 655.8h0M222.5 589.7h0M238.7 577.2h0M306.3 660.7h0M296.7 660.6h0M299.4 660.1h0M175.4 572.5h0M187.4 574.0h0M321.6 817.3h0M248.5 576.4h0M302.4 657.5h0M213.1 565.5h0M214.4 576.8h0M323.2 817.3h0M314.7 775.2h0M189.1 575.3h0M191.5 576.6h0M218.4 565.9h0M300.5 696.1h0M321.7 822.4h0M296.7 649.4h0M341.0 734.9h0M210.3 578.5h0M213.3 585.1h0M306.4 644.5h0M208.0 578.3h0M225.3 573.6h0M275.6 615.6h0M223.7 581.8h0M299.4 651.5h0M339.8 725.5h0M241.2 575.3h0M158.9 575.9h0M295.5 659.0h0M283.3 654.4h0M316.4 621.6h0M207.7 576.8h0M180.9 573.6h0M305.1 641.2h0M297.9 652.9h0M252.2 575.3h0M308.9 658.5h0M304.6 659.0h0M241.5 573.4h0M285.6 655.8h0M217.5 585.5h0M202.5 576.9h0M218.7 562.8h0M293.8 652.6h0M205.0 573.8h0M226.8 566.1h0M235.0 577.6h0M342.5 736.6h0M313.0 773.9h0M294.6 777.0h0M213.3 572.0h0M221.6 578.7h0M207.6 579.8h0M315.5 658.9h0M245.5 573.2h0M294.0 662.2h0M199.4 577.7h0M249.5 574.1h0M287.9 615.6h0M310.4 778.6h0M226.4 575.3h0M298.1 654.4h0M216.0 572.1h0M302.0 669.6h0M221.2 582.1h0M301.9 642.0h0M310.0 622.3h0M221.5 583.8h0M323.2 898.1h0M225.6 589.2h0M253.3 615.6h0M283.2 653.1h0M215.9 586.5h0"/>
</g>
<rect x="159.90" y="939.5" width="1.0" height="4.4" fill="#3a3a3a"/>
<rect x="244.90" y="939.5" width="1.0" height="4.4" fill="#3a3a3a"/>
<rect x="329.40" y="939.5" width="1.0" height="4.4" fill="#3a3a3a"/>
<rect x="415.00" y="939.5" width="1.0" height="4.4" fill="#3a3a3a"/>
<rect x="500.20" y="939.5" width="1.0" height="4.4" fill="#3a3a3a"/>
<rect x="585.50" y="939.5" width="1.0" height="4.4" fill="#3a3a3a"/>
<text x="160.1" y="965.2" class="tk" text-anchor="middle" transform="matrix(0.9900 0 0 1 1.60 0)">−0.2</text>
<text x="244.3" y="965.2" class="tk" text-anchor="middle" transform="matrix(0.9900 0 0 1 2.44 0)">−0.1</text>
<text x="329.9" y="965.2" class="tk" text-anchor="middle" transform="matrix(0.9900 0 0 1 3.30 0)">0.0</text>
<text x="414.0" y="965.2" class="tk" text-anchor="middle" transform="matrix(0.9900 0 0 1 4.14 0)">0.1</text>
<text x="499.7" y="965.2" class="tk" text-anchor="middle" transform="matrix(0.9900 0 0 1 5.00 0)">0.2</text>
<text x="584.6" y="965.2" class="tk" text-anchor="middle" transform="matrix(0.9900 0 0 1 5.85 0)">0.3</text>
<text x="360.5" y="992.6" class="xl" text-anchor="middle" transform="matrix(0.9660 0 0 1 12.26 0)">Shapley Values - Impact on model</text>
<text x="324.3" y="1022.2" class="cap" text-anchor="middle">(d)</text>
<text y="586.1" class="yl" transform="matrix(0.9660 0 0 1 3.81 0)"><tspan x="-3.7">Kc</tspan><tspan class="up" dx="1.0">(</tspan><tspan dx="-0.4">d</tspan><tspan class="up" x="60.1">−</tspan><tspan class="up" x="87.2">1)</tspan></text>
<text x="113.4" y="625.9" class="yl" text-anchor="end" transform="matrix(0.9660 0 0 1 3.86 0)">Sin</text>
<text y="666.6" class="yl" transform="matrix(0.9660 0 0 1 3.81 0)"><tspan x="-3.7">Kc</tspan><tspan class="up" dx="1.0">(</tspan><tspan dx="-0.4">d</tspan><tspan class="up" x="60.1">−</tspan><tspan class="up" x="87.2">2)</tspan></text>
<text x="113.4" y="706.4" class="yl" text-anchor="end" transform="matrix(0.9660 0 0 1 3.86 0)">Ws</text>
<text x="113.4" y="746.9" class="yl" text-anchor="end" transform="matrix(0.9660 0 0 1 3.86 0)">H</text>
<text x="113.4" y="787.3" class="yl" text-anchor="end" transform="matrix(0.9660 0 0 1 3.86 0)">Tmin</text>
<text x="113.4" y="827.6" class="yl" text-anchor="end" transform="matrix(0.9660 0 0 1 3.86 0)">Rs</text>
<text x="113.4" y="868.0" class="yl" text-anchor="end" transform="matrix(0.9660 0 0 1 3.86 0)">Tmean</text>
<text x="112.2" y="908.4" class="yl" text-anchor="end" transform="matrix(0.9660 0 0 1 3.81 0)">Tmax</text>
<rect x="618.4" y="535" width="1.8" height="403.2" fill="#f1f0f7"/>
<rect x="618.3" y="715.5" width="2.0" height="42" fill="url(#cb)"/>
<text x="623.2" y="719.8" class="cbt">High</text><text x="623.2" y="761.1" class="cbt">Low</text>
<text transform="translate(647.4,737.7) rotate(-90)" class="cbl" text-anchor="middle" textLength="61" lengthAdjust="spacing">Feature value</text>
<defs><linearGradient id="cb" x1="0" y1="1" x2="0" y2="0"><stop offset="0.00" stop-color="#008bfb" stop-opacity="0.64"/><stop offset="0.10" stop-color="#007cf5" stop-opacity="0.64"/><stop offset="0.20" stop-color="#246cea" stop-opacity="0.64"/><stop offset="0.30" stop-color="#635adb" stop-opacity="0.64"/><stop offset="0.40" stop-color="#8443c6" stop-opacity="0.64"/><stop offset="0.50" stop-color="#9b24ad" stop-opacity="0.64"/><stop offset="0.60" stop-color="#bb00a0" stop-opacity="0.64"/><stop offset="0.70" stop-color="#d5008f" stop-opacity="0.64"/><stop offset="0.80" stop-color="#e9007c" stop-opacity="0.64"/><stop offset="0.90" stop-color="#f90067" stop-opacity="0.64"/><stop offset="1.00" stop-color="#ff0051" stop-opacity="0.64"/></linearGradient></defs>
</svg>
</body></html>
